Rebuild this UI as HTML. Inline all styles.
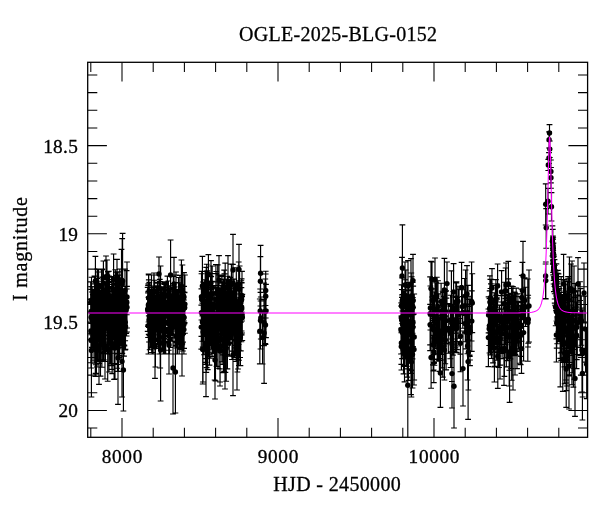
<!DOCTYPE html>
<html lang="en"><head><meta charset="utf-8"><title>OGLE-2025-BLG-0152</title>
<style>html,body{margin:0;padding:0;background:#fff}svg{display:block;will-change:transform}text{font-family:"Liberation Serif","DejaVu Serif",serif;fill:#000;stroke:#000;stroke-width:.3px}</style></head><body>
<svg width="600" height="512" viewBox="0 0 600 512">
<rect width="600" height="512" fill="#fff"/>
<defs><clipPath id="c"><rect x="87.7" y="62.3" width="499.90000000000003" height="375.0"/></clipPath></defs>
<g clip-path="url(#c)">
<path d="M126.2 286.4V333.4M123.3 286.4h5.8M123.3 333.4h5.8M119.6 280.0V309.1M116.7 280.0h5.8M116.7 309.1h5.8M91.2 299.6V334.7M88.3 299.6h5.8M88.3 334.7h5.8M99.3 312.9V363.5M96.4 312.9h5.8M96.4 363.5h5.8M110.3 302.1V353.2M107.4 302.1h5.8M107.4 353.2h5.8M102.2 269.7V332.2M99.3 269.7h5.8M99.3 332.2h5.8M115.3 269.7V314.5M112.4 269.7h5.8M112.4 314.5h5.8M93.6 298.9V349.7M90.7 298.9h5.8M90.7 349.7h5.8M103.2 290.4V360.9M100.3 290.4h5.8M100.3 360.9h5.8M119.2 292.0V357.8M116.3 292.0h5.8M116.3 357.8h5.8M114.1 291.9V329.5M111.2 291.9h5.8M111.2 329.5h5.8M102.0 302.3V348.8M99.1 302.3h5.8M99.1 348.8h5.8M103.7 295.7V338.9M100.8 295.7h5.8M100.8 338.9h5.8M103.1 316.3V360.9M100.2 316.3h5.8M100.2 360.9h5.8M125.2 303.7V349.8M122.3 303.7h5.8M122.3 349.8h5.8M94.2 290.6V332.9M91.3 290.6h5.8M91.3 332.9h5.8M105.4 283.8V361.5M102.5 283.8h5.8M102.5 361.5h5.8M113.1 291.4V332.2M110.2 291.4h5.8M110.2 332.2h5.8M96.9 289.9V332.6M94.0 289.9h5.8M94.0 332.6h5.8M102.1 269.0V303.5M99.2 269.0h5.8M99.2 303.5h5.8M118.8 305.8V357.7M115.9 305.8h5.8M115.9 357.7h5.8M100.2 313.8V360.5M97.3 313.8h5.8M97.3 360.5h5.8M103.5 299.2V352.0M100.6 299.2h5.8M100.6 352.0h5.8M96.4 326.7V374.0M93.5 326.7h5.8M93.5 374.0h5.8M117.1 294.6V354.0M114.2 294.6h5.8M114.2 354.0h5.8M119.7 314.1V357.0M116.8 314.1h5.8M116.8 357.0h5.8M107.6 295.2V349.0M104.7 295.2h5.8M104.7 349.0h5.8M109.6 277.1V323.4M106.7 277.1h5.8M106.7 323.4h5.8M96.9 310.7V367.0M94.0 310.7h5.8M94.0 367.0h5.8M111.7 276.5V319.9M108.8 276.5h5.8M108.8 319.9h5.8M112.6 307.9V349.7M109.7 307.9h5.8M109.7 349.7h5.8M99.5 298.7V339.0M96.6 298.7h5.8M96.6 339.0h5.8M118.0 271.9V313.6M115.1 271.9h5.8M115.1 313.6h5.8M114.2 305.8V364.1M111.3 305.8h5.8M111.3 364.1h5.8M109.1 289.1V343.0M106.2 289.1h5.8M106.2 343.0h5.8M125.2 303.8V340.7M122.3 303.8h5.8M122.3 340.7h5.8M107.6 301.0V353.9M104.7 301.0h5.8M104.7 353.9h5.8M114.4 307.6V353.2M111.5 307.6h5.8M111.5 353.2h5.8M112.3 281.2V325.0M109.4 281.2h5.8M109.4 325.0h5.8M97.3 309.8V351.0M94.4 309.8h5.8M94.4 351.0h5.8M115.6 305.4V341.9M112.7 305.4h5.8M112.7 341.9h5.8M125.0 269.1V312.0M122.1 269.1h5.8M122.1 312.0h5.8M104.3 298.4V332.1M101.4 298.4h5.8M101.4 332.1h5.8M103.4 279.5V353.0M100.5 279.5h5.8M100.5 353.0h5.8M124.4 292.8V345.8M121.5 292.8h5.8M121.5 345.8h5.8M117.3 307.5V368.2M114.4 307.5h5.8M114.4 368.2h5.8M97.2 269.0V310.1M94.3 269.0h5.8M94.3 310.1h5.8M93.0 295.7V332.2M90.1 295.7h5.8M90.1 332.2h5.8M99.3 305.3V336.8M96.4 305.3h5.8M96.4 336.8h5.8M107.3 274.8V328.1M104.4 274.8h5.8M104.4 328.1h5.8M111.2 301.1V365.6M108.3 301.1h5.8M108.3 365.6h5.8M122.7 303.9V338.8M119.8 303.9h5.8M119.8 338.8h5.8M115.0 283.3V363.5M112.1 283.3h5.8M112.1 363.5h5.8M98.4 269.0V300.8M95.5 269.0h5.8M95.5 300.8h5.8M121.6 304.4V345.3M118.7 304.4h5.8M118.7 345.3h5.8M95.5 291.2V373.4M92.6 291.2h5.8M92.6 373.4h5.8M118.9 275.1V335.8M116.0 275.1h5.8M116.0 335.8h5.8M124.3 312.1V349.5M121.4 312.1h5.8M121.4 349.5h5.8M116.6 285.1V327.8M113.7 285.1h5.8M113.7 327.8h5.8M98.9 293.6V337.9M96.0 293.6h5.8M96.0 337.9h5.8M114.1 296.8V379.4M111.2 296.8h5.8M111.2 379.4h5.8M122.8 300.0V330.7M119.9 300.0h5.8M119.9 330.7h5.8M114.4 298.4V336.6M111.5 298.4h5.8M111.5 336.6h5.8M103.4 290.9V353.6M100.5 290.9h5.8M100.5 353.6h5.8M93.2 292.5V327.3M90.3 292.5h5.8M90.3 327.3h5.8M95.5 297.0V337.0M92.6 297.0h5.8M92.6 337.0h5.8M100.6 298.9V338.6M97.7 298.9h5.8M97.7 338.6h5.8M116.6 296.6V347.3M113.7 296.6h5.8M113.7 347.3h5.8M108.8 294.8V353.3M105.9 294.8h5.8M105.9 353.3h5.8M106.0 293.4V328.1M103.1 293.4h5.8M103.1 328.1h5.8M116.7 295.3V336.1M113.8 295.3h5.8M113.8 336.1h5.8M123.8 293.3V327.0M120.9 293.3h5.8M120.9 327.0h5.8M91.9 292.0V347.4M89.0 292.0h5.8M89.0 347.4h5.8M99.9 287.4V341.6M97.0 287.4h5.8M97.0 341.6h5.8M111.9 318.2V369.4M109.0 318.2h5.8M109.0 369.4h5.8M91.5 277.2V323.3M88.6 277.2h5.8M88.6 323.3h5.8M100.5 313.7V376.1M97.6 313.7h5.8M97.6 376.1h5.8M110.1 286.6V327.2M107.2 286.6h5.8M107.2 327.2h5.8M119.8 269.0V310.6M116.9 269.0h5.8M116.9 310.6h5.8M109.0 284.4V329.7M106.1 284.4h5.8M106.1 329.7h5.8M126.7 289.0V314.7M123.8 289.0h5.8M123.8 314.7h5.8M123.5 290.7V334.0M120.6 290.7h5.8M120.6 334.0h5.8M127.0 286.3V328.0M124.1 286.3h5.8M124.1 328.0h5.8M116.1 272.1V323.0M113.2 272.1h5.8M113.2 323.0h5.8M109.2 300.0V343.6M106.3 300.0h5.8M106.3 343.6h5.8M117.5 287.7V371.5M114.6 287.7h5.8M114.6 371.5h5.8M113.5 284.2V334.7M110.6 284.2h5.8M110.6 334.7h5.8M96.8 287.6V341.7M93.9 287.6h5.8M93.9 341.7h5.8M90.9 299.1V362.7M88.0 299.1h5.8M88.0 362.7h5.8M101.9 281.2V325.3M99.0 281.2h5.8M99.0 325.3h5.8M120.9 300.9V335.8M118.0 300.9h5.8M118.0 335.8h5.8M121.1 300.8V336.7M118.2 300.8h5.8M118.2 336.7h5.8M118.5 312.3V371.3M115.6 312.3h5.8M115.6 371.3h5.8M99.0 292.7V326.7M96.1 292.7h5.8M96.1 326.7h5.8M124.0 295.5V356.1M121.1 295.5h5.8M121.1 356.1h5.8M119.0 281.6V330.0M116.1 281.6h5.8M116.1 330.0h5.8M121.1 286.0V333.7M118.2 286.0h5.8M118.2 333.7h5.8M101.8 315.5V361.3M98.9 315.5h5.8M98.9 361.3h5.8M100.6 293.8V341.6M97.7 293.8h5.8M97.7 341.6h5.8M119.2 303.8V355.3M116.3 303.8h5.8M116.3 355.3h5.8M110.2 295.0V363.8M107.3 295.0h5.8M107.3 363.8h5.8M109.3 290.9V331.1M106.4 290.9h5.8M106.4 331.1h5.8M97.2 308.7V346.7M94.3 308.7h5.8M94.3 346.7h5.8M99.0 295.9V340.3M96.1 295.9h5.8M96.1 340.3h5.8M111.2 309.0V347.5M108.3 309.0h5.8M108.3 347.5h5.8M111.8 279.5V324.8M108.9 279.5h5.8M108.9 324.8h5.8M117.2 288.6V326.6M114.3 288.6h5.8M114.3 326.6h5.8M117.9 278.0V310.9M115.0 278.0h5.8M115.0 310.9h5.8M101.1 290.7V347.2M98.2 290.7h5.8M98.2 347.2h5.8M101.5 269.0V303.7M98.6 269.0h5.8M98.6 303.7h5.8M103.7 310.8V359.9M100.8 310.8h5.8M100.8 359.9h5.8M97.6 278.4V359.2M94.7 278.4h5.8M94.7 359.2h5.8M100.4 298.7V335.8M97.5 298.7h5.8M97.5 335.8h5.8M90.7 281.8V323.1M87.8 281.8h5.8M87.8 323.1h5.8M104.8 303.2V351.5M101.9 303.2h5.8M101.9 351.5h5.8M102.1 284.9V338.5M99.2 284.9h5.8M99.2 338.5h5.8M108.2 282.5V313.1M105.3 282.5h5.8M105.3 313.1h5.8M107.9 271.6V312.2M105.0 271.6h5.8M105.0 312.2h5.8M101.8 283.9V324.5M98.9 283.9h5.8M98.9 324.5h5.8M107.7 319.1V381.2M104.8 319.1h5.8M104.8 381.2h5.8M107.3 292.0V330.1M104.4 292.0h5.8M104.4 330.1h5.8M102.5 277.1V314.0M99.6 277.1h5.8M99.6 314.0h5.8M94.7 320.4V363.1M91.8 320.4h5.8M91.8 363.1h5.8M95.3 319.9V376.5M92.4 319.9h5.8M92.4 376.5h5.8M106.8 305.8V350.2M103.9 305.8h5.8M103.9 350.2h5.8M120.7 306.7V344.0M117.8 306.7h5.8M117.8 344.0h5.8M121.8 290.0V329.6M118.9 290.0h5.8M118.9 329.6h5.8M107.8 295.6V353.9M104.9 295.6h5.8M104.9 353.9h5.8M102.9 298.7V336.2M100.0 298.7h5.8M100.0 336.2h5.8M119.3 280.9V314.9M116.4 280.9h5.8M116.4 314.9h5.8M97.8 290.0V361.5M94.9 290.0h5.8M94.9 361.5h5.8M118.4 302.7V348.7M115.5 302.7h5.8M115.5 348.7h5.8M95.7 294.2V364.7M92.8 294.2h5.8M92.8 364.7h5.8M117.0 278.9V320.2M114.1 278.9h5.8M114.1 320.2h5.8M125.5 303.6V349.2M122.6 303.6h5.8M122.6 349.2h5.8M113.6 287.2V329.0M110.7 287.2h5.8M110.7 329.0h5.8M95.0 283.9V342.2M92.1 283.9h5.8M92.1 342.2h5.8M94.5 276.1V328.5M91.6 276.1h5.8M91.6 328.5h5.8M108.9 271.2V320.2M106.0 271.2h5.8M106.0 320.2h5.8M104.6 287.8V335.3M101.7 287.8h5.8M101.7 335.3h5.8M119.2 306.3V347.4M116.3 306.3h5.8M116.3 347.4h5.8M112.6 284.2V325.5M109.7 284.2h5.8M109.7 325.5h5.8M92.1 286.7V342.2M89.2 286.7h5.8M89.2 342.2h5.8M117.8 296.8V364.5M114.9 296.8h5.8M114.9 364.5h5.8M114.4 289.0V337.4M111.5 289.0h5.8M111.5 337.4h5.8M124.3 295.2V345.1M121.4 295.2h5.8M121.4 345.1h5.8M116.6 295.0V331.3M113.7 295.0h5.8M113.7 331.3h5.8M123.7 289.7V327.3M120.8 289.7h5.8M120.8 327.3h5.8M97.6 269.1V319.9M94.7 269.1h5.8M94.7 319.9h5.8M91.1 289.4V333.4M88.2 289.4h5.8M88.2 333.4h5.8M109.6 281.9V329.2M106.7 281.9h5.8M106.7 329.2h5.8M111.6 304.3V339.4M108.7 304.3h5.8M108.7 339.4h5.8M112.6 290.7V345.4M109.7 290.7h5.8M109.7 345.4h5.8M115.5 294.9V348.5M112.6 294.9h5.8M112.6 348.5h5.8M111.6 306.2V335.6M108.7 306.2h5.8M108.7 335.6h5.8M112.2 288.0V373.6M109.3 288.0h5.8M109.3 373.6h5.8M119.3 302.1V341.5M116.4 302.1h5.8M116.4 341.5h5.8M120.7 295.9V345.8M117.8 295.9h5.8M117.8 345.8h5.8M116.6 295.7V340.8M113.7 295.7h5.8M113.7 340.8h5.8M116.6 275.3V304.3M113.7 275.3h5.8M113.7 304.3h5.8M92.8 294.7V340.6M89.9 294.7h5.8M89.9 340.6h5.8M101.9 305.3V367.2M99.0 305.3h5.8M99.0 367.2h5.8M109.0 276.1V315.5M106.1 276.1h5.8M106.1 315.5h5.8M114.5 287.8V322.0M111.6 287.8h5.8M111.6 322.0h5.8M122.3 313.3V353.3M119.4 313.3h5.8M119.4 353.3h5.8M183.0 299.0V334.4M180.1 299.0h5.8M180.1 334.4h5.8M171.3 293.8V322.6M168.4 293.8h5.8M168.4 322.6h5.8M177.5 315.8V354.0M174.6 315.8h5.8M174.6 354.0h5.8M152.0 289.0V330.3M149.1 289.0h5.8M149.1 330.3h5.8M179.7 282.9V321.0M176.8 282.9h5.8M176.8 321.0h5.8M156.6 300.1V329.5M153.7 300.1h5.8M153.7 329.5h5.8M154.6 280.2V318.4M151.7 280.2h5.8M151.7 318.4h5.8M153.1 307.1V354.0M150.2 307.1h5.8M150.2 354.0h5.8M156.0 306.9V340.7M153.1 306.9h5.8M153.1 340.7h5.8M165.2 290.0V341.4M162.3 290.0h5.8M162.3 341.4h5.8M177.4 299.9V336.6M174.5 299.9h5.8M174.5 336.6h5.8M172.2 289.3V334.6M169.3 289.3h5.8M169.3 334.6h5.8M182.3 310.5V343.9M179.4 310.5h5.8M179.4 343.9h5.8M170.4 299.0V341.1M167.5 299.0h5.8M167.5 341.1h5.8M153.8 287.5V332.2M150.9 287.5h5.8M150.9 332.2h5.8M175.4 290.3V329.2M172.5 290.3h5.8M172.5 329.2h5.8M178.8 301.9V343.9M175.9 301.9h5.8M175.9 343.9h5.8M168.7 311.1V354.0M165.8 311.1h5.8M165.8 354.0h5.8M169.9 297.2V340.0M167.0 297.2h5.8M167.0 340.0h5.8M174.6 289.2V328.2M171.7 289.2h5.8M171.7 328.2h5.8M152.7 292.5V340.5M149.8 292.5h5.8M149.8 340.5h5.8M157.9 297.8V343.6M155.0 297.8h5.8M155.0 343.6h5.8M164.8 284.5V321.7M161.9 284.5h5.8M161.9 321.7h5.8M164.2 296.2V338.3M161.3 296.2h5.8M161.3 338.3h5.8M163.1 298.3V321.3M160.2 298.3h5.8M160.2 321.3h5.8M176.7 290.1V341.6M173.8 290.1h5.8M173.8 341.6h5.8M163.2 321.2V354.0M160.3 321.2h5.8M160.3 354.0h5.8M151.5 275.0V312.0M148.6 275.0h5.8M148.6 312.0h5.8M184.6 292.2V322.5M181.7 292.2h5.8M181.7 322.5h5.8M152.1 290.7V339.0M149.2 290.7h5.8M149.2 339.0h5.8M165.6 288.7V324.4M162.7 288.7h5.8M162.7 324.4h5.8M148.8 287.3V327.5M145.9 287.3h5.8M145.9 327.5h5.8M147.7 287.4V331.4M144.8 287.4h5.8M144.8 331.4h5.8M149.4 290.5V326.0M146.5 290.5h5.8M146.5 326.0h5.8M168.4 281.0V333.0M165.5 281.0h5.8M165.5 333.0h5.8M181.3 296.2V348.4M178.4 296.2h5.8M178.4 348.4h5.8M148.4 297.2V354.0M145.5 297.2h5.8M145.5 354.0h5.8M176.2 307.5V337.8M173.3 307.5h5.8M173.3 337.8h5.8M173.9 287.6V327.5M171.0 287.6h5.8M171.0 327.5h5.8M168.3 291.8V336.3M165.4 291.8h5.8M165.4 336.3h5.8M165.7 305.7V354.0M162.8 305.7h5.8M162.8 354.0h5.8M152.1 315.8V354.0M149.2 315.8h5.8M149.2 354.0h5.8M177.7 297.1V333.8M174.8 297.1h5.8M174.8 333.8h5.8M178.4 300.2V342.7M175.5 300.2h5.8M175.5 342.7h5.8M158.9 295.6V344.9M156.0 295.6h5.8M156.0 344.9h5.8M174.6 286.9V318.5M171.7 286.9h5.8M171.7 318.5h5.8M170.8 288.3V338.2M167.9 288.3h5.8M167.9 338.2h5.8M180.4 295.7V333.2M177.5 295.7h5.8M177.5 333.2h5.8M153.3 289.4V329.6M150.4 289.4h5.8M150.4 329.6h5.8M170.6 309.6V347.5M167.7 309.6h5.8M167.7 347.5h5.8M183.0 294.5V342.1M180.1 294.5h5.8M180.1 342.1h5.8M163.0 286.7V326.6M160.1 286.7h5.8M160.1 326.6h5.8M166.0 284.5V324.3M163.1 284.5h5.8M163.1 324.3h5.8M182.9 302.7V351.0M180.0 302.7h5.8M180.0 351.0h5.8M163.5 306.1V343.4M160.6 306.1h5.8M160.6 343.4h5.8M181.2 295.8V334.3M178.3 295.8h5.8M178.3 334.3h5.8M162.9 298.4V337.0M160.0 298.4h5.8M160.0 337.0h5.8M154.2 306.6V346.1M151.3 306.6h5.8M151.3 346.1h5.8M159.3 302.6V354.0M156.4 302.6h5.8M156.4 354.0h5.8M176.0 275.0V308.5M173.1 275.0h5.8M173.1 308.5h5.8M184.1 286.4V348.4M181.2 286.4h5.8M181.2 348.4h5.8M179.2 300.8V354.0M176.3 300.8h5.8M176.3 354.0h5.8M154.6 300.9V338.7M151.7 300.9h5.8M151.7 338.7h5.8M157.6 287.3V344.6M154.7 287.3h5.8M154.7 344.6h5.8M180.3 292.5V330.3M177.4 292.5h5.8M177.4 330.3h5.8M169.3 285.8V327.5M166.4 285.8h5.8M166.4 327.5h5.8M174.5 295.8V325.3M171.6 295.8h5.8M171.6 325.3h5.8M173.3 276.4V335.2M170.4 276.4h5.8M170.4 335.2h5.8M179.7 303.8V342.2M176.8 303.8h5.8M176.8 342.2h5.8M175.3 305.8V342.9M172.4 305.8h5.8M172.4 342.9h5.8M155.3 298.0V339.5M152.4 298.0h5.8M152.4 339.5h5.8M159.5 301.7V331.4M156.6 301.7h5.8M156.6 331.4h5.8M171.1 298.1V333.3M168.2 298.1h5.8M168.2 333.3h5.8M184.5 292.6V323.6M181.6 292.6h5.8M181.6 323.6h5.8M149.7 289.4V349.7M146.8 289.4h5.8M146.8 349.7h5.8M150.7 298.7V347.6M147.8 298.7h5.8M147.8 347.6h5.8M164.6 283.6V320.8M161.7 283.6h5.8M161.7 320.8h5.8M154.1 275.0V309.5M151.2 275.0h5.8M151.2 309.5h5.8M158.5 306.5V348.4M155.6 306.5h5.8M155.6 348.4h5.8M167.4 276.1V315.3M164.5 276.1h5.8M164.5 315.3h5.8M168.7 297.7V350.2M165.8 297.7h5.8M165.8 350.2h5.8M154.9 303.1V346.3M152.0 303.1h5.8M152.0 346.3h5.8M148.3 291.3V324.8M145.4 291.3h5.8M145.4 324.8h5.8M148.0 292.8V326.4M145.1 292.8h5.8M145.1 326.4h5.8M153.8 275.0V328.0M150.9 275.0h5.8M150.9 328.0h5.8M159.9 281.5V325.6M157.0 281.5h5.8M157.0 325.6h5.8M173.7 283.5V324.7M170.8 283.5h5.8M170.8 324.7h5.8M149.5 299.0V335.6M146.6 299.0h5.8M146.6 335.6h5.8M158.1 292.5V344.8M155.2 292.5h5.8M155.2 344.8h5.8M165.1 281.8V323.3M162.2 281.8h5.8M162.2 323.3h5.8M164.4 307.3V354.0M161.5 307.3h5.8M161.5 354.0h5.8M157.5 287.6V325.5M154.6 287.6h5.8M154.6 325.5h5.8M175.9 317.9V354.0M173.0 317.9h5.8M173.0 354.0h5.8M148.4 283.9V326.0M145.5 283.9h5.8M145.5 326.0h5.8M163.9 283.8V321.4M161.0 283.8h5.8M161.0 321.4h5.8M165.0 302.2V342.3M162.1 302.2h5.8M162.1 342.3h5.8M156.1 285.7V329.1M153.2 285.7h5.8M153.2 329.1h5.8M162.1 300.2V348.8M159.2 300.2h5.8M159.2 348.8h5.8M179.9 275.3V321.1M177.0 275.3h5.8M177.0 321.1h5.8M165.6 307.0V353.8M162.7 307.0h5.8M162.7 353.8h5.8M164.4 282.3V323.7M161.5 282.3h5.8M161.5 323.7h5.8M150.7 299.9V347.0M147.8 299.9h5.8M147.8 347.0h5.8M164.2 293.3V354.0M161.3 293.3h5.8M161.3 354.0h5.8M175.7 305.5V345.1M172.8 305.5h5.8M172.8 345.1h5.8M180.4 303.3V346.8M177.5 303.3h5.8M177.5 346.8h5.8M169.5 301.4V335.4M166.6 301.4h5.8M166.6 335.4h5.8M169.3 291.7V339.2M166.4 291.7h5.8M166.4 339.2h5.8M178.5 277.5V325.5M175.6 277.5h5.8M175.6 325.5h5.8M148.8 279.9V315.9M145.9 279.9h5.8M145.9 315.9h5.8M175.1 282.5V341.4M172.2 282.5h5.8M172.2 341.4h5.8M169.5 311.5V354.0M166.6 311.5h5.8M166.6 354.0h5.8M162.3 291.9V326.8M159.4 291.9h5.8M159.4 326.8h5.8M151.7 297.8V352.5M148.8 297.8h5.8M148.8 352.5h5.8M176.6 301.6V348.0M173.7 301.6h5.8M173.7 348.0h5.8M152.9 286.0V330.1M150.0 286.0h5.8M150.0 330.1h5.8M170.0 307.4V331.8M167.1 307.4h5.8M167.1 331.8h5.8M148.7 275.0V334.3M145.8 275.0h5.8M145.8 334.3h5.8M176.8 289.5V327.5M173.9 289.5h5.8M173.9 327.5h5.8M175.3 301.3V346.2M172.4 301.3h5.8M172.4 346.2h5.8M180.7 296.1V346.8M177.8 296.1h5.8M177.8 346.8h5.8M168.1 300.8V343.7M165.2 300.8h5.8M165.2 343.7h5.8M157.5 286.4V334.8M154.6 286.4h5.8M154.6 334.8h5.8M165.6 290.4V329.0M162.7 290.4h5.8M162.7 329.0h5.8M183.9 305.2V354.0M181.0 305.2h5.8M181.0 354.0h5.8M165.4 291.8V335.4M162.5 291.8h5.8M162.5 335.4h5.8M156.3 293.5V330.9M153.4 293.5h5.8M153.4 330.9h5.8M157.4 283.2V319.9M154.5 283.2h5.8M154.5 319.9h5.8M184.9 275.0V333.2M182.0 275.0h5.8M182.0 333.2h5.8M161.5 294.3V333.0M158.6 294.3h5.8M158.6 333.0h5.8M156.7 287.5V314.9M153.8 287.5h5.8M153.8 314.9h5.8M183.3 291.9V325.8M180.4 291.9h5.8M180.4 325.8h5.8M152.7 289.2V332.8M149.8 289.2h5.8M149.8 332.8h5.8M169.7 298.6V330.6M166.8 298.6h5.8M166.8 330.6h5.8M158.4 289.4V328.0M155.5 289.4h5.8M155.5 328.0h5.8M182.2 297.0V335.6M179.3 297.0h5.8M179.3 335.6h5.8M161.4 288.2V324.5M158.5 288.2h5.8M158.5 324.5h5.8M168.5 289.1V333.7M165.6 289.1h5.8M165.6 333.7h5.8M154.4 297.4V333.0M151.5 297.4h5.8M151.5 333.0h5.8M160.4 300.4V328.4M157.5 300.4h5.8M157.5 328.4h5.8M169.6 290.2V337.4M166.7 290.2h5.8M166.7 337.4h5.8M181.1 312.8V349.3M178.2 312.8h5.8M178.2 349.3h5.8M148.1 285.4V337.5M145.2 285.4h5.8M145.2 337.5h5.8M159.8 279.3V331.6M156.9 279.3h5.8M156.9 331.6h5.8M180.2 291.4V348.8M177.3 291.4h5.8M177.3 348.8h5.8M149.3 282.4V324.4M146.4 282.4h5.8M146.4 324.4h5.8M159.9 304.8V340.1M157.0 304.8h5.8M157.0 340.1h5.8M152.4 297.6V335.6M149.5 297.6h5.8M149.5 335.6h5.8M159.3 319.0V354.0M156.4 319.0h5.8M156.4 354.0h5.8M165.7 287.3V327.8M162.8 287.3h5.8M162.8 327.8h5.8M157.6 282.4V317.0M154.7 282.4h5.8M154.7 317.0h5.8M241.6 282.6V316.4M238.7 282.6h5.8M238.7 316.4h5.8M203.4 288.9V335.0M200.5 288.9h5.8M200.5 335.0h5.8M231.4 264.1V304.7M228.5 264.1h5.8M228.5 304.7h5.8M201.4 288.9V336.3M198.5 288.9h5.8M198.5 336.3h5.8M234.3 291.3V357.6M231.4 291.3h5.8M231.4 357.6h5.8M232.2 292.7V335.9M229.3 292.7h5.8M229.3 335.9h5.8M225.3 286.7V333.3M222.4 286.7h5.8M222.4 333.3h5.8M208.5 307.2V356.9M205.6 307.2h5.8M205.6 356.9h5.8M215.9 264.5V335.1M213.0 264.5h5.8M213.0 335.1h5.8M232.8 307.6V334.1M229.9 307.6h5.8M229.9 334.1h5.8M223.1 314.2V364.3M220.2 314.2h5.8M220.2 364.3h5.8M226.0 285.5V342.0M223.1 285.5h5.8M223.1 342.0h5.8M240.8 317.5V350.9M237.9 317.5h5.8M237.9 350.9h5.8M209.4 312.9V354.7M206.5 312.9h5.8M206.5 354.7h5.8M241.3 280.7V319.4M238.4 280.7h5.8M238.4 319.4h5.8M202.4 303.1V341.2M199.5 303.1h5.8M199.5 341.2h5.8M236.9 300.9V359.6M234.0 300.9h5.8M234.0 359.6h5.8M236.7 303.7V356.0M233.8 303.7h5.8M233.8 356.0h5.8M225.8 301.1V347.3M222.9 301.1h5.8M222.9 347.3h5.8M232.9 310.2V355.9M230.0 310.2h5.8M230.0 355.9h5.8M238.9 280.7V330.9M236.0 280.7h5.8M236.0 330.9h5.8M236.5 289.1V327.7M233.6 289.1h5.8M233.6 327.7h5.8M208.7 289.6V345.4M205.8 289.6h5.8M205.8 345.4h5.8M238.7 262.0V305.7M235.8 262.0h5.8M235.8 305.7h5.8M216.1 281.9V329.0M213.2 281.9h5.8M213.2 329.0h5.8M213.0 302.9V352.9M210.1 302.9h5.8M210.1 352.9h5.8M224.4 273.8V321.2M221.5 273.8h5.8M221.5 321.2h5.8M207.7 273.7V316.2M204.8 273.7h5.8M204.8 316.2h5.8M205.4 325.0V364.4M202.5 325.0h5.8M202.5 364.4h5.8M221.9 283.1V320.5M219.0 283.1h5.8M219.0 320.5h5.8M228.3 283.7V343.8M225.4 283.7h5.8M225.4 343.8h5.8M241.7 282.6V334.8M238.8 282.6h5.8M238.8 334.8h5.8M206.2 267.4V303.3M203.3 267.4h5.8M203.3 303.3h5.8M204.7 279.8V330.0M201.8 279.8h5.8M201.8 330.0h5.8M234.3 283.6V316.1M231.4 283.6h5.8M231.4 316.1h5.8M236.2 284.4V352.3M233.3 284.4h5.8M233.3 352.3h5.8M201.5 273.7V320.0M198.6 273.7h5.8M198.6 320.0h5.8M241.6 278.9V312.1M238.7 278.9h5.8M238.7 312.1h5.8M223.5 318.1V372.6M220.6 318.1h5.8M220.6 372.6h5.8M221.9 316.7V361.8M219.0 316.7h5.8M219.0 361.8h5.8M219.5 288.4V327.4M216.6 288.4h5.8M216.6 327.4h5.8M229.8 284.0V318.0M226.9 284.0h5.8M226.9 318.0h5.8M201.7 271.3V327.4M198.8 271.3h5.8M198.8 327.4h5.8M238.4 297.9V342.1M235.5 297.9h5.8M235.5 342.1h5.8M224.2 290.9V331.8M221.3 290.9h5.8M221.3 331.8h5.8M235.7 283.1V318.9M232.8 283.1h5.8M232.8 318.9h5.8M216.7 297.7V347.7M213.8 297.7h5.8M213.8 347.7h5.8M228.7 305.1V342.5M225.8 305.1h5.8M225.8 342.5h5.8M228.0 282.8V333.2M225.1 282.8h5.8M225.1 333.2h5.8M217.1 288.1V311.9M214.2 288.1h5.8M214.2 311.9h5.8M228.8 284.3V332.3M225.9 284.3h5.8M225.9 332.3h5.8M209.5 314.4V365.1M206.6 314.4h5.8M206.6 365.1h5.8M241.4 287.6V341.7M238.5 287.6h5.8M238.5 341.7h5.8M207.1 285.6V347.1M204.2 285.6h5.8M204.2 347.1h5.8M231.0 298.6V339.4M228.1 298.6h5.8M228.1 339.4h5.8M212.1 305.3V356.6M209.2 305.3h5.8M209.2 356.6h5.8M220.0 288.0V339.0M217.1 288.0h5.8M217.1 339.0h5.8M230.2 283.9V320.8M227.3 283.9h5.8M227.3 320.8h5.8M208.9 285.5V340.5M206.0 285.5h5.8M206.0 340.5h5.8M233.2 288.1V332.2M230.3 288.1h5.8M230.3 332.2h5.8M224.3 298.5V350.3M221.4 298.5h5.8M221.4 350.3h5.8M238.8 302.1V344.5M235.9 302.1h5.8M235.9 344.5h5.8M223.8 303.4V364.0M220.9 303.4h5.8M220.9 364.0h5.8M208.3 287.8V320.9M205.4 287.8h5.8M205.4 320.9h5.8M211.9 281.3V328.8M209.0 281.3h5.8M209.0 328.8h5.8M210.5 295.5V344.7M207.6 295.5h5.8M207.6 344.7h5.8M219.8 307.0V368.8M216.9 307.0h5.8M216.9 368.8h5.8M232.9 264.4V301.6M230.0 264.4h5.8M230.0 301.6h5.8M212.2 266.0V309.6M209.3 266.0h5.8M209.3 309.6h5.8M240.9 282.8V322.2M238.0 282.8h5.8M238.0 322.2h5.8M236.9 289.9V344.6M234.0 289.9h5.8M234.0 344.6h5.8M215.8 285.5V328.5M212.9 285.5h5.8M212.9 328.5h5.8M238.9 301.7V350.4M236.0 301.7h5.8M236.0 350.4h5.8M228.6 287.5V322.0M225.7 287.5h5.8M225.7 322.0h5.8M207.2 270.9V303.2M204.3 270.9h5.8M204.3 303.2h5.8M217.7 264.8V314.2M214.8 264.8h5.8M214.8 314.2h5.8M220.8 285.4V328.8M217.9 285.4h5.8M217.9 328.8h5.8M213.9 303.7V353.4M211.0 303.7h5.8M211.0 353.4h5.8M206.3 313.8V372.4M203.4 313.8h5.8M203.4 372.4h5.8M207.7 300.5V369.6M204.8 300.5h5.8M204.8 369.6h5.8M208.9 287.7V340.6M206.0 287.7h5.8M206.0 340.6h5.8M221.3 297.5V341.9M218.4 297.5h5.8M218.4 341.9h5.8M215.5 312.6V380.8M212.6 312.6h5.8M212.6 380.8h5.8M230.2 283.7V333.1M227.3 283.7h5.8M227.3 333.1h5.8M236.0 302.1V347.9M233.1 302.1h5.8M233.1 347.9h5.8M204.0 297.3V354.7M201.1 297.3h5.8M201.1 354.7h5.8M207.0 301.9V344.3M204.1 301.9h5.8M204.1 344.3h5.8M216.2 271.5V314.9M213.3 271.5h5.8M213.3 314.9h5.8M235.7 291.0V339.9M232.8 291.0h5.8M232.8 339.9h5.8M204.6 286.0V325.5M201.7 286.0h5.8M201.7 325.5h5.8M234.9 304.3V345.4M232.0 304.3h5.8M232.0 345.4h5.8M235.0 290.2V319.8M232.1 290.2h5.8M232.1 319.8h5.8M232.8 299.0V351.1M229.9 299.0h5.8M229.9 351.1h5.8M227.3 309.8V354.5M224.4 309.8h5.8M224.4 354.5h5.8M228.7 288.8V336.7M225.8 288.8h5.8M225.8 336.7h5.8M211.6 285.5V349.1M208.7 285.5h5.8M208.7 349.1h5.8M216.6 294.4V366.4M213.7 294.4h5.8M213.7 366.4h5.8M211.3 309.9V344.8M208.4 309.9h5.8M208.4 344.8h5.8M215.9 273.6V339.9M213.0 273.6h5.8M213.0 339.9h5.8M206.0 282.2V320.8M203.1 282.2h5.8M203.1 320.8h5.8M223.8 311.3V350.8M220.9 311.3h5.8M220.9 350.8h5.8M222.0 276.3V327.2M219.1 276.3h5.8M219.1 327.2h5.8M218.6 304.0V351.9M215.7 304.0h5.8M215.7 351.9h5.8M216.6 292.8V350.0M213.7 292.8h5.8M213.7 350.0h5.8M210.0 300.0V358.2M207.1 300.0h5.8M207.1 358.2h5.8M224.2 270.1V305.5M221.3 270.1h5.8M221.3 305.5h5.8M204.7 287.5V336.5M201.8 287.5h5.8M201.8 336.5h5.8M206.4 303.9V347.8M203.5 303.9h5.8M203.5 347.8h5.8M229.0 290.8V356.2M226.1 290.8h5.8M226.1 356.2h5.8M242.1 296.5V333.0M239.2 296.5h5.8M239.2 333.0h5.8M220.4 304.3V346.2M217.5 304.3h5.8M217.5 346.2h5.8M205.9 286.8V344.0M203.0 286.8h5.8M203.0 344.0h5.8M205.7 299.8V362.3M202.8 299.8h5.8M202.8 362.3h5.8M235.3 301.2V355.7M232.4 301.2h5.8M232.4 355.7h5.8M220.0 308.1V349.5M217.1 308.1h5.8M217.1 349.5h5.8M202.7 315.0V384.0M199.8 315.0h5.8M199.8 384.0h5.8M236.9 306.2V348.3M234.0 306.2h5.8M234.0 348.3h5.8M217.4 292.1V344.8M214.5 292.1h5.8M214.5 344.8h5.8M218.0 314.2V368.2M215.1 314.2h5.8M215.1 368.2h5.8M218.2 291.6V349.4M215.3 291.6h5.8M215.3 349.4h5.8M236.3 267.7V306.2M233.4 267.7h5.8M233.4 306.2h5.8M230.5 277.3V325.3M227.6 277.3h5.8M227.6 325.3h5.8M228.1 290.9V345.1M225.2 290.9h5.8M225.2 345.1h5.8M211.8 273.5V313.7M208.9 273.5h5.8M208.9 313.7h5.8M218.3 301.3V348.4M215.4 301.3h5.8M215.4 348.4h5.8M205.2 271.5V296.8M202.3 271.5h5.8M202.3 296.8h5.8M229.3 291.9V325.0M226.4 291.9h5.8M226.4 325.0h5.8M206.7 264.2V310.8M203.8 264.2h5.8M203.8 310.8h5.8M242.3 294.4V340.5M239.4 294.4h5.8M239.4 340.5h5.8M216.0 288.1V350.5M213.1 288.1h5.8M213.1 350.5h5.8M206.7 292.9V367.6M203.8 292.9h5.8M203.8 367.6h5.8M206.5 282.6V341.8M203.6 282.6h5.8M203.6 341.8h5.8M212.3 292.1V327.6M209.4 292.1h5.8M209.4 327.6h5.8M227.4 305.9V368.8M224.5 305.9h5.8M224.5 368.8h5.8M232.0 296.9V359.5M229.1 296.9h5.8M229.1 359.5h5.8M239.0 303.4V360.2M236.1 303.4h5.8M236.1 360.2h5.8M236.5 287.9V341.1M233.6 287.9h5.8M233.6 341.1h5.8M230.2 295.7V343.5M227.3 295.7h5.8M227.3 343.5h5.8M227.0 292.6V324.3M224.1 292.6h5.8M224.1 324.3h5.8M223.1 285.3V354.8M220.2 285.3h5.8M220.2 354.8h5.8M229.3 293.7V355.9M226.4 293.7h5.8M226.4 355.9h5.8M213.7 286.8V327.4M210.8 286.8h5.8M210.8 327.4h5.8M236.2 311.9V361.5M233.3 311.9h5.8M233.3 361.5h5.8M227.5 276.2V327.5M224.6 276.2h5.8M224.6 327.5h5.8M224.1 315.5V371.4M221.2 315.5h5.8M221.2 371.4h5.8M206.6 301.2V342.3M203.7 301.2h5.8M203.7 342.3h5.8M220.1 315.1V382.0M217.2 315.1h5.8M217.2 382.0h5.8M210.5 276.1V316.5M207.6 276.1h5.8M207.6 316.5h5.8M222.6 281.8V327.1M219.7 281.8h5.8M219.7 327.1h5.8M218.8 275.0V318.5M215.9 275.0h5.8M215.9 318.5h5.8M221.8 275.2V333.6M218.9 275.2h5.8M218.9 333.6h5.8M211.2 276.6V319.5M208.3 276.6h5.8M208.3 319.5h5.8M210.9 298.7V333.4M208.0 298.7h5.8M208.0 333.4h5.8M221.0 296.4V334.5M218.1 296.4h5.8M218.1 334.5h5.8M205.4 302.3V333.0M202.5 302.3h5.8M202.5 333.0h5.8M201.3 305.1V349.1M198.4 305.1h5.8M198.4 349.1h5.8M240.1 311.0V357.5M237.2 311.0h5.8M237.2 357.5h5.8M206.0 289.1V358.6M203.1 289.1h5.8M203.1 358.6h5.8M223.4 279.3V329.2M220.5 279.3h5.8M220.5 329.2h5.8M237.9 303.1V345.0M235.0 303.1h5.8M235.0 345.0h5.8M233.0 291.7V331.9M230.1 291.7h5.8M230.1 331.9h5.8M238.9 306.0V365.5M236.0 306.0h5.8M236.0 365.5h5.8M234.2 279.1V308.2M231.3 279.1h5.8M231.3 308.2h5.8M226.2 315.9V381.2M223.3 315.9h5.8M223.3 381.2h5.8M214.3 292.1V356.2M211.4 292.1h5.8M211.4 356.2h5.8M202.8 295.8V347.1M199.9 295.8h5.8M199.9 347.1h5.8M225.2 263.1V312.8M222.3 263.1h5.8M222.3 312.8h5.8M204.0 286.8V320.0M201.1 286.8h5.8M201.1 320.0h5.8M207.0 296.8V350.9M204.1 296.8h5.8M204.1 350.9h5.8M208.6 293.1V347.0M205.7 293.1h5.8M205.7 347.0h5.8M411.3 313.1V370.6M408.4 313.1h5.8M408.4 370.6h5.8M411.3 273.0V334.1M408.4 273.0h5.8M408.4 334.1h5.8M413.0 307.8V346.5M410.1 307.8h5.8M410.1 346.5h5.8M408.8 282.6V316.7M405.9 282.6h5.8M405.9 316.7h5.8M408.4 298.0V350.2M405.5 298.0h5.8M405.5 350.2h5.8M401.9 289.5V320.4M399.0 289.5h5.8M399.0 320.4h5.8M405.2 314.7V358.9M402.3 314.7h5.8M402.3 358.9h5.8M406.8 329.5V366.4M403.9 329.5h5.8M403.9 366.4h5.8M406.3 299.3V352.5M403.4 299.3h5.8M403.4 352.5h5.8M411.3 311.5V370.0M408.4 311.5h5.8M408.4 370.0h5.8M405.6 279.7V317.7M402.7 279.7h5.8M402.7 317.7h5.8M401.3 302.8V332.7M398.4 302.8h5.8M398.4 332.7h5.8M403.8 293.4V340.1M400.9 293.4h5.8M400.9 340.1h5.8M404.5 325.8V381.9M401.6 325.8h5.8M401.6 381.9h5.8M402.2 297.1V342.0M399.3 297.1h5.8M399.3 342.0h5.8M406.2 301.1V366.2M403.3 301.1h5.8M403.3 366.2h5.8M403.0 298.4V341.0M400.1 298.4h5.8M400.1 341.0h5.8M406.8 297.5V351.8M403.9 297.5h5.8M403.9 351.8h5.8M403.4 319.8V347.8M400.5 319.8h5.8M400.5 347.8h5.8M412.7 286.1V326.9M409.8 286.1h5.8M409.8 326.9h5.8M408.2 290.6V352.4M405.3 290.6h5.8M405.3 352.4h5.8M404.3 316.9V365.5M401.4 316.9h5.8M401.4 365.5h5.8M413.2 286.1V314.6M410.3 286.1h5.8M410.3 314.6h5.8M406.3 306.9V346.9M403.4 306.9h5.8M403.4 346.9h5.8M402.2 277.8V323.5M399.3 277.8h5.8M399.3 323.5h5.8M410.6 325.0V373.4M407.7 325.0h5.8M407.7 373.4h5.8M403.8 300.3V337.4M400.9 300.3h5.8M400.9 337.4h5.8M412.7 294.0V350.3M409.8 294.0h5.8M409.8 350.3h5.8M401.9 297.5V343.3M399.0 297.5h5.8M399.0 343.3h5.8M405.9 270.0V321.5M403.0 270.0h5.8M403.0 321.5h5.8M407.2 308.9V377.1M404.3 308.9h5.8M404.3 377.1h5.8M412.5 313.4V358.8M409.6 313.4h5.8M409.6 358.8h5.8M401.6 284.9V327.8M398.7 284.9h5.8M398.7 327.8h5.8M403.0 316.4V349.8M400.1 316.4h5.8M400.1 349.8h5.8M403.9 291.1V334.0M401.0 291.1h5.8M401.0 334.0h5.8M406.1 299.1V346.1M403.2 299.1h5.8M403.2 346.1h5.8M402.6 294.6V353.7M399.7 294.6h5.8M399.7 353.7h5.8M407.3 301.1V356.0M404.4 301.1h5.8M404.4 356.0h5.8M403.5 323.7V373.8M400.6 323.7h5.8M400.6 373.8h5.8M410.2 302.7V360.6M407.3 302.7h5.8M407.3 360.6h5.8M412.5 320.9V388.0M409.6 320.9h5.8M409.6 388.0h5.8M404.7 315.0V366.5M401.8 315.0h5.8M401.8 366.5h5.8M401.3 328.8V364.4M398.4 328.8h5.8M398.4 364.4h5.8M408.5 328.2V380.4M405.6 328.2h5.8M405.6 380.4h5.8M411.3 308.5V361.5M408.4 308.5h5.8M408.4 361.5h5.8M407.4 305.4V351.4M404.5 305.4h5.8M404.5 351.4h5.8M411.7 276.7V315.8M408.8 276.7h5.8M408.8 315.8h5.8M403.0 289.7V344.3M400.1 289.7h5.8M400.1 344.3h5.8M412.8 297.5V348.4M409.9 297.5h5.8M409.9 348.4h5.8M409.9 294.9V349.5M407.0 294.9h5.8M407.0 349.5h5.8M407.2 313.3V368.8M404.3 313.3h5.8M404.3 368.8h5.8M402.1 304.8V358.6M399.2 304.8h5.8M399.2 358.6h5.8M412.6 282.5V333.2M409.7 282.5h5.8M409.7 333.2h5.8M407.7 289.8V334.9M404.8 289.8h5.8M404.8 334.9h5.8M460.4 314.7V371.7M457.5 314.7h5.8M457.5 371.7h5.8M469.8 306.5V356.4M466.9 306.5h5.8M466.9 356.4h5.8M434.1 320.7V362.6M431.2 320.7h5.8M431.2 362.6h5.8M433.5 305.0V354.6M430.6 305.0h5.8M430.6 354.6h5.8M443.0 292.5V338.8M440.1 292.5h5.8M440.1 338.8h5.8M451.9 306.0V381.5M449.0 306.0h5.8M449.0 381.5h5.8M430.1 276.8V350.6M427.2 276.8h5.8M427.2 350.6h5.8M462.8 296.6V328.2M459.9 296.6h5.8M459.9 328.2h5.8M464.7 278.5V332.8M461.8 278.5h5.8M461.8 332.8h5.8M434.4 292.0V365.2M431.5 292.0h5.8M431.5 365.2h5.8M450.3 306.5V358.7M447.4 306.5h5.8M447.4 358.7h5.8M442.3 317.8V360.0M439.4 317.8h5.8M439.4 360.0h5.8M467.4 299.3V353.7M464.5 299.3h5.8M464.5 353.7h5.8M450.7 295.2V367.5M447.8 295.2h5.8M447.8 367.5h5.8M445.6 291.5V331.5M442.7 291.5h5.8M442.7 331.5h5.8M441.1 283.2V319.8M438.2 283.2h5.8M438.2 319.8h5.8M442.2 312.4V367.9M439.3 312.4h5.8M439.3 367.9h5.8M437.2 320.4V361.2M434.3 320.4h5.8M434.3 361.2h5.8M436.8 277.2V314.9M433.9 277.2h5.8M433.9 314.9h5.8M456.4 283.0V324.3M453.5 283.0h5.8M453.5 324.3h5.8M433.9 312.6V363.5M431.0 312.6h5.8M431.0 363.5h5.8M437.7 307.7V359.3M434.8 307.7h5.8M434.8 359.3h5.8M443.5 296.4V333.7M440.6 296.4h5.8M440.6 333.7h5.8M435.7 316.8V348.2M432.8 316.8h5.8M432.8 348.2h5.8M451.6 305.4V333.5M448.7 305.4h5.8M448.7 333.5h5.8M442.6 291.2V318.2M439.7 291.2h5.8M439.7 318.2h5.8M442.8 316.8V377.1M439.9 316.8h5.8M439.9 377.1h5.8M438.0 301.9V359.1M435.1 301.9h5.8M435.1 359.1h5.8M432.9 288.9V364.8M430.0 288.9h5.8M430.0 364.8h5.8M439.1 315.5V360.4M436.2 315.5h5.8M436.2 360.4h5.8M453.7 304.4V351.4M450.8 304.4h5.8M450.8 351.4h5.8M470.0 296.2V365.6M467.1 296.2h5.8M467.1 365.6h5.8M437.7 293.9V328.4M434.8 293.9h5.8M434.8 328.4h5.8M432.3 278.0V322.6M429.4 278.0h5.8M429.4 322.6h5.8M456.6 304.2V352.6M453.7 304.2h5.8M453.7 352.6h5.8M457.1 297.3V346.0M454.2 297.3h5.8M454.2 346.0h5.8M456.5 281.7V333.1M453.6 281.7h5.8M453.6 333.1h5.8M445.3 316.1V363.7M442.4 316.1h5.8M442.4 363.7h5.8M436.9 298.3V348.6M434.0 298.3h5.8M434.0 348.6h5.8M446.1 290.7V369.8M443.2 290.7h5.8M443.2 369.8h5.8M465.3 305.8V341.7M462.4 305.8h5.8M462.4 341.7h5.8M465.5 295.1V331.0M462.6 295.1h5.8M462.6 331.0h5.8M459.1 289.2V338.2M456.2 289.2h5.8M456.2 338.2h5.8M451.4 270.8V351.9M448.5 270.8h5.8M448.5 351.9h5.8M433.2 318.3V370.8M430.3 318.3h5.8M430.3 370.8h5.8M455.6 304.7V352.0M452.7 304.7h5.8M452.7 352.0h5.8M444.2 320.7V346.0M441.3 320.7h5.8M441.3 346.0h5.8M472.3 273.7V332.6M469.4 273.7h5.8M469.4 332.6h5.8M451.8 304.4V342.2M448.9 304.4h5.8M448.9 342.2h5.8M440.3 309.2V358.5M437.4 309.2h5.8M437.4 358.5h5.8M433.3 295.5V335.4M430.4 295.5h5.8M430.4 335.4h5.8M455.8 281.8V321.9M452.9 281.8h5.8M452.9 321.9h5.8M430.1 304.3V344.9M427.2 304.3h5.8M427.2 344.9h5.8M458.0 286.2V316.4M455.1 286.2h5.8M455.1 316.4h5.8M452.9 296.9V355.1M450.0 296.9h5.8M450.0 355.1h5.8M462.2 289.7V323.4M459.3 289.7h5.8M459.3 323.4h5.8M431.1 326.6V388.2M428.2 326.6h5.8M428.2 388.2h5.8M448.3 303.5V353.2M445.4 303.5h5.8M445.4 353.2h5.8M455.5 296.1V347.9M452.6 296.1h5.8M452.6 347.9h5.8M446.4 298.1V343.1M443.5 298.1h5.8M443.5 343.1h5.8M468.0 285.4V339.8M465.1 285.4h5.8M465.1 339.8h5.8M471.8 290.9V351.4M468.9 290.9h5.8M468.9 351.4h5.8M441.6 307.7V354.3M438.7 307.7h5.8M438.7 354.3h5.8M445.0 289.3V343.9M442.1 289.3h5.8M442.1 343.9h5.8M439.4 318.4V371.4M436.5 318.4h5.8M436.5 371.4h5.8M436.6 294.2V342.8M433.7 294.2h5.8M433.7 342.8h5.8M453.3 291.5V330.9M450.4 291.5h5.8M450.4 330.9h5.8M436.9 311.6V353.8M434.0 311.6h5.8M434.0 353.8h5.8M456.6 296.2V341.6M453.7 296.2h5.8M453.7 341.6h5.8M466.2 315.4V348.9M463.3 315.4h5.8M463.3 348.9h5.8M438.0 280.7V332.3M435.1 280.7h5.8M435.1 332.3h5.8M450.5 305.0V335.2M447.6 305.0h5.8M447.6 335.2h5.8M460.4 318.5V354.1M457.5 318.5h5.8M457.5 354.1h5.8M436.1 282.7V335.2M433.2 282.7h5.8M433.2 335.2h5.8M469.6 299.3V355.1M466.7 299.3h5.8M466.7 355.1h5.8M456.8 304.4V349.6M453.9 304.4h5.8M453.9 349.6h5.8M499.0 315.7V367.5M496.1 315.7h5.8M496.1 367.5h5.8M521.0 296.6V356.3M518.1 296.6h5.8M518.1 356.3h5.8M512.8 301.8V355.0M509.9 301.8h5.8M509.9 355.0h5.8M520.7 305.4V364.6M517.8 305.4h5.8M517.8 364.6h5.8M524.7 277.8V323.2M521.8 277.8h5.8M521.8 323.2h5.8M514.2 296.1V351.8M511.3 296.1h5.8M511.3 351.8h5.8M491.9 304.5V348.2M489.0 304.5h5.8M489.0 348.2h5.8M496.9 297.7V336.9M494.0 297.7h5.8M494.0 336.9h5.8M505.5 295.4V340.2M502.6 295.4h5.8M502.6 340.2h5.8M511.7 316.5V380.2M508.8 316.5h5.8M508.8 380.2h5.8M512.9 286.5V313.1M510.0 286.5h5.8M510.0 313.1h5.8M488.6 296.8V332.9M485.7 296.8h5.8M485.7 332.9h5.8M511.1 304.1V368.6M508.2 304.1h5.8M508.2 368.6h5.8M489.7 290.8V325.6M486.8 290.8h5.8M486.8 325.6h5.8M527.8 279.0V361.2M524.9 279.0h5.8M524.9 361.2h5.8M500.2 312.4V365.1M497.3 312.4h5.8M497.3 365.1h5.8M516.2 288.1V351.3M513.3 288.1h5.8M513.3 351.3h5.8M513.9 294.8V322.1M511.0 294.8h5.8M511.0 322.1h5.8M515.9 309.0V355.7M513.0 309.0h5.8M513.0 355.7h5.8M515.1 293.0V322.6M512.2 293.0h5.8M512.2 322.6h5.8M494.9 309.6V366.2M492.0 309.6h5.8M492.0 366.2h5.8M499.4 305.0V351.7M496.5 305.0h5.8M496.5 351.7h5.8M497.0 299.1V337.8M494.1 299.1h5.8M494.1 337.8h5.8M501.8 291.1V344.3M498.9 291.1h5.8M498.9 344.3h5.8M493.2 298.0V351.9M490.3 298.0h5.8M490.3 351.9h5.8M491.0 279.3V325.7M488.1 279.3h5.8M488.1 325.7h5.8M509.3 303.8V370.2M506.4 303.8h5.8M506.4 370.2h5.8M507.5 294.7V360.6M504.6 294.7h5.8M504.6 360.6h5.8M505.0 292.5V338.0M502.1 292.5h5.8M502.1 338.0h5.8M521.4 302.6V349.0M518.5 302.6h5.8M518.5 349.0h5.8M513.0 316.6V390.0M510.1 316.6h5.8M510.1 390.0h5.8M511.7 288.5V334.2M508.8 288.5h5.8M508.8 334.2h5.8M515.3 308.5V354.5M512.4 308.5h5.8M512.4 354.5h5.8M506.3 302.2V366.8M503.4 302.2h5.8M503.4 366.8h5.8M490.4 279.4V316.2M487.5 279.4h5.8M487.5 316.2h5.8M521.5 323.8V373.3M518.6 323.8h5.8M518.6 373.3h5.8M505.9 307.9V357.9M503.0 307.9h5.8M503.0 357.9h5.8M491.8 311.5V350.0M488.9 311.5h5.8M488.9 350.0h5.8M517.9 293.9V332.6M515.0 293.9h5.8M515.0 332.6h5.8M494.2 292.7V347.6M491.3 292.7h5.8M491.3 347.6h5.8M496.7 305.2V360.2M493.8 305.2h5.8M493.8 360.2h5.8M510.8 313.3V358.8M507.9 313.3h5.8M507.9 358.8h5.8M490.3 310.4V354.9M487.4 310.4h5.8M487.4 354.9h5.8M501.9 305.3V353.2M499.0 305.3h5.8M499.0 353.2h5.8M496.9 284.0V346.2M494.0 284.0h5.8M494.0 346.2h5.8M518.5 301.2V349.1M515.6 301.2h5.8M515.6 349.1h5.8M489.9 275.8V328.4M487.0 275.8h5.8M487.0 328.4h5.8M528.2 295.2V343.2M525.3 295.2h5.8M525.3 343.2h5.8M489.5 298.6V353.0M486.6 298.6h5.8M486.6 353.0h5.8M512.2 297.0V352.6M509.3 297.0h5.8M509.3 352.6h5.8M513.3 303.0V352.4M510.4 303.0h5.8M510.4 352.4h5.8M511.5 286.1V319.1M508.6 286.1h5.8M508.6 319.1h5.8M494.3 316.8V367.0M491.4 316.8h5.8M491.4 367.0h5.8M514.5 292.1V348.9M511.6 292.1h5.8M511.6 348.9h5.8M521.8 275.4V319.6M518.9 275.4h5.8M518.9 319.6h5.8M519.8 305.9V348.9M516.9 305.9h5.8M516.9 348.9h5.8M505.5 298.5V344.7M502.6 298.5h5.8M502.6 344.7h5.8M504.4 320.8V376.4M501.5 320.8h5.8M501.5 376.4h5.8M503.9 302.9V346.9M501.0 302.9h5.8M501.0 346.9h5.8M516.5 315.0V350.8M513.6 315.0h5.8M513.6 350.8h5.8M497.6 309.6V352.5M494.7 309.6h5.8M494.7 352.5h5.8M502.1 309.1V358.6M499.2 309.1h5.8M499.2 358.6h5.8M495.9 279.6V322.1M493.0 279.6h5.8M493.0 322.1h5.8M490.9 283.8V334.8M488.0 283.8h5.8M488.0 334.8h5.8M495.4 285.5V326.5M492.5 285.5h5.8M492.5 326.5h5.8M497.8 324.2V388.3M494.9 324.2h5.8M494.9 388.3h5.8M501.5 302.0V353.5M498.6 302.0h5.8M498.6 353.5h5.8M491.4 302.8V358.5M488.5 302.8h5.8M488.5 358.5h5.8M510.8 293.4V336.9M507.9 293.4h5.8M507.9 336.9h5.8M507.9 300.5V342.2M505.0 300.5h5.8M505.0 342.2h5.8M489.2 311.9V345.5M486.3 311.9h5.8M486.3 345.5h5.8M513.0 288.2V338.1M510.1 288.2h5.8M510.1 338.1h5.8M490.5 288.5V330.1M487.6 288.5h5.8M487.6 330.1h5.8M521.5 289.1V341.2M518.6 289.1h5.8M518.6 341.2h5.8M508.7 278.8V317.3M505.8 278.8h5.8M505.8 317.3h5.8M493.0 311.3V362.8M490.1 311.3h5.8M490.1 362.8h5.8M514.7 296.7V350.8M511.8 296.7h5.8M511.8 350.8h5.8M504.2 282.2V325.5M501.3 282.2h5.8M501.3 325.5h5.8M496.1 295.3V336.9M493.2 295.3h5.8M493.2 336.9h5.8M501.4 295.6V347.3M498.5 295.6h5.8M498.5 347.3h5.8M509.4 294.0V342.7M506.5 294.0h5.8M506.5 342.7h5.8M513.9 305.5V349.7M511.0 305.5h5.8M511.0 349.7h5.8M519.9 309.5V363.2M517.0 309.5h5.8M517.0 363.2h5.8M517.4 302.2V342.9M514.5 302.2h5.8M514.5 342.9h5.8M525.6 287.2V326.5M522.7 287.2h5.8M522.7 326.5h5.8M496.1 298.3V344.3M493.2 298.3h5.8M493.2 344.3h5.8M556.7 298.2V348.1M553.8 298.2h5.8M553.8 348.1h5.8M561.2 276.6V333.6M558.3 276.6h5.8M558.3 333.6h5.8M568.1 276.6V315.3M565.2 276.6h5.8M565.2 315.3h5.8M569.5 310.4V376.0M566.6 310.4h5.8M566.6 376.0h5.8M567.2 295.8V335.9M564.3 295.8h5.8M564.3 335.9h5.8M562.5 301.1V346.4M559.6 301.1h5.8M559.6 346.4h5.8M571.9 314.9V384.7M569.0 314.9h5.8M569.0 384.7h5.8M558.5 290.2V338.2M555.6 290.2h5.8M555.6 338.2h5.8M562.9 298.3V345.5M560.0 298.3h5.8M560.0 345.5h5.8M560.7 300.2V353.0M557.8 300.2h5.8M557.8 353.0h5.8M564.2 279.6V340.2M561.3 279.6h5.8M561.3 340.2h5.8M561.3 309.3V360.4M558.4 309.3h5.8M558.4 360.4h5.8M560.2 306.0V358.3M557.3 306.0h5.8M557.3 358.3h5.8M556.0 277.7V306.6M553.1 277.7h5.8M553.1 306.6h5.8M556.4 284.7V338.8M553.5 284.7h5.8M553.5 338.8h5.8M572.3 307.0V349.6M569.4 307.0h5.8M569.4 349.6h5.8M556.4 263.9V307.1M553.5 263.9h5.8M553.5 307.1h5.8M558.3 279.3V335.0M555.4 279.3h5.8M555.4 335.0h5.8M562.8 301.5V348.9M559.9 301.5h5.8M559.9 348.9h5.8M568.2 278.8V319.8M565.3 278.8h5.8M565.3 319.8h5.8M565.5 284.7V330.8M562.6 284.7h5.8M562.6 330.8h5.8M565.3 291.1V328.4M562.4 291.1h5.8M562.4 328.4h5.8M561.5 303.0V352.4M558.6 303.0h5.8M558.6 352.4h5.8M561.4 301.2V340.6M558.5 301.2h5.8M558.5 340.6h5.8M569.5 281.8V340.0M566.6 281.8h5.8M566.6 340.0h5.8M571.0 301.6V353.4M568.1 301.6h5.8M568.1 353.4h5.8M569.2 319.1V374.9M566.3 319.1h5.8M566.3 374.9h5.8M563.0 296.9V362.3M560.1 296.9h5.8M560.1 362.3h5.8M567.2 281.4V337.0M564.3 281.4h5.8M564.3 337.0h5.8M557.2 294.0V343.7M554.3 294.0h5.8M554.3 343.7h5.8M561.1 298.3V340.3M558.2 298.3h5.8M558.2 340.3h5.8M569.2 299.4V364.5M566.3 299.4h5.8M566.3 364.5h5.8M564.8 281.0V335.2M561.9 281.0h5.8M561.9 335.2h5.8M564.1 302.4V362.3M561.2 302.4h5.8M561.2 362.3h5.8M572.2 316.2V372.7M569.3 316.2h5.8M569.3 372.7h5.8M564.4 319.7V366.9M561.5 319.7h5.8M561.5 366.9h5.8M568.1 294.4V347.9M565.2 294.4h5.8M565.2 347.9h5.8M563.5 296.2V345.6M560.6 296.2h5.8M560.6 345.6h5.8M564.7 322.7V383.7M561.8 322.7h5.8M561.8 383.7h5.8M558.4 286.6V331.4M555.5 286.6h5.8M555.5 331.4h5.8M562.8 327.6V391.3M559.9 327.6h5.8M559.9 391.3h5.8M566.8 293.0V336.2M563.9 293.0h5.8M563.9 336.2h5.8M562.2 295.2V337.5M559.3 295.2h5.8M559.3 337.5h5.8M558.5 273.8V338.5M555.6 273.8h5.8M555.6 338.5h5.8M560.1 294.6V340.2M557.2 294.6h5.8M557.2 340.2h5.8M563.3 307.2V333.2M560.4 307.2h5.8M560.4 333.2h5.8M571.4 305.1V351.6M568.5 305.1h5.8M568.5 351.6h5.8M571.4 300.8V347.5M568.5 300.8h5.8M568.5 347.5h5.8M571.7 299.0V355.3M568.8 299.0h5.8M568.8 355.3h5.8M559.0 297.5V337.2M556.1 297.5h5.8M556.1 337.2h5.8M559.5 288.6V341.6M556.6 288.6h5.8M556.6 341.6h5.8M560.3 292.5V386.8M557.4 292.5h5.8M557.4 386.8h5.8M557.6 273.3V317.1M554.7 273.3h5.8M554.7 317.1h5.8M557.8 270.3V309.9M554.9 270.3h5.8M554.9 309.9h5.8M561.0 298.0V341.6M558.1 298.0h5.8M558.1 341.6h5.8M570.0 315.6V362.5M567.1 315.6h5.8M567.1 362.5h5.8M566.8 304.0V357.7M563.9 304.0h5.8M563.9 357.7h5.8M569.2 292.2V343.2M566.3 292.2h5.8M566.3 343.2h5.8M581.3 295.9V345.2M578.4 295.9h5.8M578.4 345.2h5.8M586.7 330.0V398.6M583.8 330.0h5.8M583.8 398.6h5.8M580.1 300.5V337.2M577.2 300.5h5.8M577.2 337.2h5.8M576.8 295.1V359.6M573.9 295.1h5.8M573.9 359.6h5.8M576.0 307.1V347.0M573.1 307.1h5.8M573.1 347.0h5.8M573.5 288.3V368.2M570.6 288.3h5.8M570.6 368.2h5.8M574.1 291.7V349.5M571.2 291.7h5.8M571.2 349.5h5.8M573.4 297.5V387.1M570.5 297.5h5.8M570.5 387.1h5.8M577.3 290.8V354.5M574.4 290.8h5.8M574.4 354.5h5.8M576.6 302.0V368.6M573.7 302.0h5.8M573.7 368.6h5.8M574.0 297.1V379.2M571.1 297.1h5.8M571.1 379.2h5.8M580.4 288.6V355.6M577.5 288.6h5.8M577.5 355.6h5.8M575.4 283.5V338.2M572.5 283.5h5.8M572.5 338.2h5.8M585.3 296.1V362.1M582.4 296.1h5.8M582.4 362.1h5.8M580.0 281.7V347.5M577.1 281.7h5.8M577.1 347.5h5.8M585.6 328.2V372.2M582.7 328.2h5.8M582.7 372.2h5.8M552.8 229.4V248.0M549.9 229.4h5.8M549.9 248.0h5.8M552.9 236.0V253.0M550.0 236.0h5.8M550.0 253.0h5.8M553.2 237.2V257.6M550.3 237.2h5.8M550.3 257.6h5.8M553.0 239.2V260.1M550.1 239.2h5.8M550.1 260.1h5.8M553.4 243.1V263.3M550.5 243.1h5.8M550.5 263.3h5.8M552.8 245.9V264.1M549.9 245.9h5.8M549.9 264.1h5.8M553.1 249.0V272.3M550.2 249.0h5.8M550.2 272.3h5.8M553.2 250.5V274.9M550.3 250.5h5.8M550.3 274.9h5.8M553.8 256.6V276.7M550.9 256.6h5.8M550.9 276.7h5.8M553.7 254.8V280.4M550.8 254.8h5.8M550.8 280.4h5.8M553.6 256.4V284.0M550.7 256.4h5.8M550.7 284.0h5.8M554.5 259.6V286.4M551.6 259.6h5.8M551.6 286.4h5.8M553.9 264.2V291.6M551.0 264.2h5.8M551.0 291.6h5.8M554.7 265.5V293.7M551.8 265.5h5.8M551.8 293.7h5.8M554.7 269.6V299.0M551.8 269.6h5.8M551.8 299.0h5.8M554.7 269.5V303.1M551.8 269.5h5.8M551.8 303.1h5.8M555.1 274.3V305.2M552.2 274.3h5.8M552.2 305.2h5.8M555.7 274.6V306.5M552.8 274.6h5.8M552.8 306.5h5.8M556.4 276.9V310.2M553.5 276.9h5.8M553.5 310.2h5.8M556.1 280.8V310.6M553.2 280.8h5.8M553.2 310.6h5.8M557.2 281.8V316.9M554.3 281.8h5.8M554.3 316.9h5.8M557.4 283.7V321.1M554.5 283.7h5.8M554.5 321.1h5.8M556.5 288.8V321.0M553.6 288.8h5.8M553.6 321.0h5.8M555.7 289.0V325.7M552.8 289.0h5.8M552.8 325.7h5.8M95.4 256.4V306.0M92.5 256.4h5.8M92.5 306.0h5.8M98.6 272.0V312.0M95.7 272.0h5.8M95.7 312.0h5.8M103.4 261.0V305.0M100.5 261.0h5.8M100.5 305.0h5.8M106.0 256.0V298.0M103.1 256.0h5.8M103.1 298.0h5.8M107.0 260.0V308.0M104.1 260.0h5.8M104.1 308.0h5.8M113.6 254.0V304.0M110.7 254.0h5.8M110.7 304.0h5.8M117.0 259.4V305.0M114.1 259.4h5.8M114.1 305.0h5.8M122.6 233.4V329.0M119.7 233.4h5.8M119.7 329.0h5.8M122.2 238.6V330.0M119.3 238.6h5.8M119.3 330.0h5.8M121.5 249.4V311.0M118.6 249.4h5.8M118.6 311.0h5.8M127.0 262.0V332.0M124.1 262.0h5.8M124.1 332.0h5.8M126.6 270.6V336.0M123.7 270.6h5.8M123.7 336.0h5.8M91.4 304.0V397.0M88.5 304.0h5.8M88.5 397.0h5.8M91.0 312.0V368.0M88.1 312.0h5.8M88.1 368.0h5.8M99.0 316.0V384.4M96.1 316.0h5.8M96.1 384.4h5.8M105.0 313.0V379.0M102.1 313.0h5.8M102.1 379.0h5.8M109.0 314.0V372.0M106.1 314.0h5.8M106.1 372.0h5.8M115.0 317.0V379.0M112.1 317.0h5.8M112.1 379.0h5.8M118.0 312.0V404.4M115.1 312.0h5.8M115.1 404.4h5.8M123.4 329.0V411.0M120.5 329.0h5.8M120.5 411.0h5.8M122.0 326.0V397.0M119.1 326.0h5.8M119.1 397.0h5.8M93.0 311.0V361.0M90.1 311.0h5.8M90.1 361.0h5.8M148.6 274.0V322.0M145.7 274.0h5.8M145.7 322.0h5.8M154.0 273.0V321.0M151.1 273.0h5.8M151.1 321.0h5.8M159.0 257.0V291.0M156.1 257.0h5.8M156.1 291.0h5.8M160.6 266.0V312.0M157.7 266.0h5.8M157.7 312.0h5.8M170.6 240.0V310.0M167.7 240.0h5.8M167.7 310.0h5.8M174.0 257.4V311.0M171.1 257.4h5.8M171.1 311.0h5.8M176.0 272.0V318.0M173.1 272.0h5.8M173.1 318.0h5.8M181.4 260.0V312.0M178.5 260.0h5.8M178.5 312.0h5.8M182.4 265.0V315.0M179.5 265.0h5.8M179.5 315.0h5.8M184.0 272.6V321.0M181.1 272.6h5.8M181.1 321.0h5.8M149.0 298.0V342.0M146.1 298.0h5.8M146.1 342.0h5.8M155.0 316.0V378.4M152.1 316.0h5.8M152.1 378.4h5.8M155.4 313.0V367.0M152.5 313.0h5.8M152.5 367.0h5.8M160.6 299.0V401.0M157.7 299.0h5.8M157.7 401.0h5.8M160.2 318.0V368.0M157.3 318.0h5.8M157.3 368.0h5.8M169.0 316.0V374.0M166.1 316.0h5.8M166.1 374.0h5.8M173.0 322.0V414.0M170.1 322.0h5.8M170.1 414.0h5.8M175.4 331.0V413.0M172.5 331.0h5.8M172.5 413.0h5.8M182.0 312.0V376.0M179.1 312.0h5.8M179.1 376.0h5.8M184.0 300.0V348.4M181.1 300.0h5.8M181.1 348.4h5.8M202.4 256.4V316.0M199.5 256.4h5.8M199.5 316.0h5.8M208.4 254.6V294.0M205.5 254.6h5.8M205.5 294.0h5.8M211.0 260.6V305.0M208.1 260.6h5.8M208.1 305.0h5.8M219.0 255.6V304.0M216.1 255.6h5.8M216.1 304.0h5.8M228.0 255.6V306.0M225.1 255.6h5.8M225.1 306.0h5.8M233.0 234.4V306.0M230.1 234.4h5.8M230.1 306.0h5.8M239.0 244.4V294.0M236.1 244.4h5.8M236.1 294.0h5.8M242.0 271.4V321.0M239.1 271.4h5.8M239.1 321.0h5.8M241.6 283.0V331.0M238.7 283.0h5.8M238.7 331.0h5.8M239.6 266.0V312.0M236.7 266.0h5.8M236.7 312.0h5.8M203.0 282.0V382.0M200.1 282.0h5.8M200.1 382.0h5.8M206.0 301.0V396.6M203.1 301.0h5.8M203.1 396.6h5.8M215.0 321.0V399.0M212.1 321.0h5.8M212.1 399.0h5.8M214.6 312.0V380.0M211.7 312.0h5.8M211.7 380.0h5.8M220.0 316.0V386.0M217.1 316.0h5.8M217.1 386.0h5.8M225.0 315.0V389.0M222.1 315.0h5.8M222.1 389.0h5.8M225.4 312.0V372.4M222.5 312.0h5.8M222.5 372.4h5.8M233.0 314.0V395.6M230.1 314.0h5.8M230.1 395.6h5.8M237.0 310.0V390.0M234.1 310.0h5.8M234.1 390.0h5.8M237.4 314.0V372.0M234.5 314.0h5.8M234.5 372.0h5.8M240.4 308.0V365.6M237.5 308.0h5.8M237.5 365.6h5.8M238.0 313.0V369.0M235.1 313.0h5.8M235.1 369.0h5.8M260.6 245.4V301.0M257.7 245.4h5.8M257.7 301.0h5.8M260.4 256.6V306.0M257.5 256.6h5.8M257.5 306.0h5.8M265.7 271.2V310.0M262.8 271.2h5.8M262.8 310.0h5.8M265.7 274.0V318.0M262.8 274.0h5.8M262.8 318.0h5.8M265.3 279.0V343.5M262.4 279.0h5.8M262.4 343.5h5.8M260.2 289.0V333.0M257.3 289.0h5.8M257.3 333.0h5.8M266.0 284.4V337.6M263.1 284.4h5.8M263.1 337.6h5.8M260.5 292.3V349.0M257.6 292.3h5.8M257.6 349.0h5.8M264.0 299.6V345.6M261.1 299.6h5.8M261.1 345.6h5.8M265.5 305.5V344.5M262.6 305.5h5.8M262.6 344.5h5.8M259.8 299.0V363.8M256.9 299.0h5.8M256.9 363.8h5.8M262.6 311.0V364.0M259.7 311.0h5.8M259.7 364.0h5.8M264.1 283.0V383.3M261.2 283.0h5.8M261.2 383.3h5.8M260.8 297.0V339.0M257.9 297.0h5.8M257.9 339.0h5.8M402.4 224.8V311.0M399.5 224.8h5.8M399.5 311.0h5.8M402.0 257.4V295.0M399.1 257.4h5.8M399.1 295.0h5.8M405.0 262.0V308.0M402.1 262.0h5.8M402.1 308.0h5.8M413.0 254.4V307.0M410.1 254.4h5.8M410.1 307.0h5.8M411.0 258.6V309.0M408.1 258.6h5.8M408.1 309.0h5.8M408.0 260.6V311.0M405.1 260.6h5.8M405.1 311.0h5.8M407.8 326.0V445.0M404.9 326.0h5.8M404.9 445.0h5.8M411.0 321.0V394.6M408.1 321.0h5.8M408.1 394.6h5.8M411.4 327.0V397.0M408.5 327.0h5.8M408.5 397.0h5.8M414.0 314.0V385.0M411.1 314.0h5.8M411.1 385.0h5.8M414.2 294.0V380.0M411.3 294.0h5.8M411.3 380.0h5.8M401.0 306.0V354.0M398.1 306.0h5.8M398.1 354.0h5.8M401.4 316.0V370.0M398.5 316.0h5.8M398.5 370.0h5.8M431.0 261.4V316.0M428.1 261.4h5.8M428.1 316.0h5.8M435.0 258.0V301.0M432.1 258.0h5.8M432.1 301.0h5.8M432.0 262.0V297.0M429.1 262.0h5.8M429.1 297.0h5.8M444.4 258.4V322.0M441.5 258.4h5.8M441.5 322.0h5.8M447.0 262.0V305.0M444.1 262.0h5.8M444.1 305.0h5.8M453.6 263.6V320.0M450.7 263.6h5.8M450.7 320.0h5.8M461.6 262.4V312.0M458.7 262.4h5.8M458.7 312.0h5.8M467.0 265.6V322.0M464.1 265.6h5.8M464.1 322.0h5.8M471.6 262.0V341.0M468.7 262.0h5.8M468.7 341.0h5.8M465.6 270.0V322.0M462.7 270.0h5.8M462.7 322.0h5.8M430.4 286.0V330.0M427.5 286.0h5.8M427.5 330.0h5.8M433.6 320.0V370.0M430.7 320.0h5.8M430.7 370.0h5.8M433.8 321.0V382.6M430.9 321.0h5.8M430.9 382.6h5.8M440.4 339.0V407.4M437.5 339.0h5.8M437.5 407.4h5.8M444.4 320.0V380.0M441.5 320.0h5.8M441.5 380.0h5.8M452.0 339.0V408.0M449.1 339.0h5.8M449.1 408.0h5.8M454.0 344.0V428.0M451.1 344.0h5.8M451.1 428.0h5.8M463.0 331.0V406.0M460.1 331.0h5.8M460.1 406.0h5.8M468.1 304.0V419.4M465.2 304.0h5.8M465.2 419.4h5.8M468.4 314.0V390.0M465.5 314.0h5.8M465.5 390.0h5.8M467.6 312.0V380.0M464.7 312.0h5.8M464.7 380.0h5.8M470.0 305.0V360.0M467.1 305.0h5.8M467.1 360.0h5.8M492.0 268.6V307.0M489.1 268.6h5.8M489.1 307.0h5.8M497.6 264.0V308.0M494.7 264.0h5.8M494.7 308.0h5.8M501.6 270.6V313.0M498.7 270.6h5.8M498.7 313.0h5.8M506.0 263.0V307.0M503.1 263.0h5.8M503.1 307.0h5.8M508.4 261.4V307.0M505.5 261.4h5.8M505.5 307.0h5.8M523.0 241.4V311.0M520.1 241.4h5.8M520.1 311.0h5.8M522.4 262.4V319.0M519.5 262.4h5.8M519.5 319.0h5.8M529.0 270.0V342.0M526.1 270.0h5.8M526.1 342.0h5.8M505.6 268.0V313.0M502.7 268.0h5.8M502.7 313.0h5.8M488.4 309.0V366.6M485.5 309.0h5.8M485.5 366.6h5.8M494.4 314.0V382.0M491.5 314.0h5.8M491.5 382.0h5.8M500.0 321.0V379.0M497.1 321.0h5.8M497.1 379.0h5.8M504.0 317.0V385.4M501.1 317.0h5.8M501.1 385.4h5.8M509.6 310.0V402.4M506.7 310.0h5.8M506.7 402.4h5.8M509.2 318.0V386.0M506.3 318.0h5.8M506.3 386.0h5.8M515.0 315.0V375.0M512.1 315.0h5.8M512.1 375.0h5.8M517.0 313.0V368.6M514.1 313.0h5.8M514.1 368.6h5.8M523.6 304.0V361.0M520.7 304.0h5.8M520.7 361.0h5.8M528.0 298.0V347.0M525.1 298.0h5.8M525.1 347.0h5.8M545.6 264.0V298.6M542.7 264.0h5.8M542.7 298.6h5.8M545.8 262.0V299.0M542.9 262.0h5.8M542.9 299.0h5.8M563.6 254.4V314.0M560.7 254.4h5.8M560.7 314.0h5.8M569.4 257.0V321.0M566.5 257.0h5.8M566.5 321.0h5.8M572.0 261.0V321.0M569.1 261.0h5.8M569.1 321.0h5.8M578.0 257.6V310.0M575.1 257.6h5.8M575.1 310.0h5.8M584.0 263.0V323.0M581.1 263.0h5.8M581.1 323.0h5.8M571.0 264.0V313.0M568.1 264.0h5.8M568.1 313.0h5.8M574.0 266.0V316.0M571.1 266.0h5.8M571.1 316.0h5.8M556.4 308.0V362.0M553.5 308.0h5.8M553.5 362.0h5.8M566.4 326.0V380.0M563.5 326.0h5.8M563.5 380.0h5.8M566.6 337.0V383.0M563.7 337.0h5.8M563.7 383.0h5.8M566.2 331.0V407.4M563.3 331.0h5.8M563.3 407.4h5.8M566.8 321.0V390.6M563.9 321.0h5.8M563.9 390.6h5.8M567.0 318.0V386.0M564.1 318.0h5.8M564.1 386.0h5.8M569.0 323.0V409.0M566.1 323.0h5.8M566.1 409.0h5.8M575.0 340.0V416.4M572.1 340.0h5.8M572.1 416.4h5.8M582.4 327.0V420.0M579.5 327.0h5.8M579.5 420.0h5.8M582.6 310.0V397.0M579.7 310.0h5.8M579.7 397.0h5.8M582.0 308.0V392.0M579.1 308.0h5.8M579.1 392.0h5.8M549.5 124.6V141.0M546.6 124.6h5.8M546.6 141.0h5.8M549.1 131.8V148.0M546.2 131.8h5.8M546.2 148.0h5.8M549.8 141.0V157.5M546.9 141.0h5.8M546.9 157.5h5.8M548.3 159.3V170.5M545.4 159.3h5.8M545.4 170.5h5.8M549.0 152.6V163.5M546.1 152.6h5.8M546.1 163.5h5.8M550.9 160.0V182.8M548.0 160.0h5.8M548.0 182.8h5.8M551.0 167.5V188.2M548.1 167.5h5.8M548.1 188.2h5.8M548.0 188.3V214.0M545.1 188.3h5.8M545.1 214.0h5.8M545.7 183.8V225.0M542.8 183.8h5.8M542.8 225.0h5.8M551.5 192.6V221.0M548.6 192.6h5.8M548.6 221.0h5.8M546.2 208.6V248.2M543.3 208.6h5.8M543.3 248.2h5.8M552.4 225.9V256.0M549.5 225.9h5.8M549.5 256.0h5.8" fill="none" stroke="#000" stroke-width="1.15"/>
<g fill="#000">
<circle cx="126.2" cy="309.9" r="2.7"/>
<circle cx="119.6" cy="294.6" r="2.7"/>
<circle cx="91.2" cy="317.2" r="2.7"/>
<circle cx="99.3" cy="338.2" r="2.7"/>
<circle cx="110.3" cy="327.7" r="2.7"/>
<circle cx="102.2" cy="301.0" r="2.7"/>
<circle cx="115.3" cy="292.1" r="2.7"/>
<circle cx="93.6" cy="324.3" r="2.7"/>
<circle cx="103.2" cy="325.7" r="2.7"/>
<circle cx="119.2" cy="324.9" r="2.7"/>
<circle cx="114.1" cy="310.7" r="2.7"/>
<circle cx="102.0" cy="325.6" r="2.7"/>
<circle cx="103.7" cy="317.3" r="2.7"/>
<circle cx="103.1" cy="338.6" r="2.7"/>
<circle cx="125.2" cy="326.7" r="2.7"/>
<circle cx="94.2" cy="311.7" r="2.7"/>
<circle cx="105.4" cy="322.6" r="2.7"/>
<circle cx="113.1" cy="311.8" r="2.7"/>
<circle cx="96.9" cy="311.3" r="2.7"/>
<circle cx="102.1" cy="286.3" r="2.7"/>
<circle cx="118.8" cy="331.7" r="2.7"/>
<circle cx="100.2" cy="337.2" r="2.7"/>
<circle cx="103.5" cy="325.6" r="2.7"/>
<circle cx="96.4" cy="350.3" r="2.7"/>
<circle cx="117.1" cy="324.3" r="2.7"/>
<circle cx="119.7" cy="335.6" r="2.7"/>
<circle cx="107.6" cy="322.1" r="2.7"/>
<circle cx="109.6" cy="300.2" r="2.7"/>
<circle cx="96.9" cy="338.8" r="2.7"/>
<circle cx="111.7" cy="298.2" r="2.7"/>
<circle cx="112.6" cy="328.8" r="2.7"/>
<circle cx="99.5" cy="318.9" r="2.7"/>
<circle cx="118.0" cy="292.8" r="2.7"/>
<circle cx="114.2" cy="334.9" r="2.7"/>
<circle cx="109.1" cy="316.1" r="2.7"/>
<circle cx="125.2" cy="322.3" r="2.7"/>
<circle cx="107.6" cy="327.4" r="2.7"/>
<circle cx="114.4" cy="330.4" r="2.7"/>
<circle cx="112.3" cy="303.1" r="2.7"/>
<circle cx="97.3" cy="330.4" r="2.7"/>
<circle cx="115.6" cy="323.7" r="2.7"/>
<circle cx="125.0" cy="290.5" r="2.7"/>
<circle cx="104.3" cy="315.2" r="2.7"/>
<circle cx="103.4" cy="316.2" r="2.7"/>
<circle cx="124.4" cy="319.3" r="2.7"/>
<circle cx="117.3" cy="337.8" r="2.7"/>
<circle cx="97.2" cy="289.5" r="2.7"/>
<circle cx="93.0" cy="313.9" r="2.7"/>
<circle cx="99.3" cy="321.0" r="2.7"/>
<circle cx="107.3" cy="301.4" r="2.7"/>
<circle cx="111.2" cy="333.3" r="2.7"/>
<circle cx="122.7" cy="321.4" r="2.7"/>
<circle cx="115.0" cy="323.4" r="2.7"/>
<circle cx="98.4" cy="284.9" r="2.7"/>
<circle cx="121.6" cy="324.8" r="2.7"/>
<circle cx="95.5" cy="332.3" r="2.7"/>
<circle cx="118.9" cy="305.4" r="2.7"/>
<circle cx="124.3" cy="330.8" r="2.7"/>
<circle cx="116.6" cy="306.5" r="2.7"/>
<circle cx="98.9" cy="315.8" r="2.7"/>
<circle cx="114.1" cy="338.1" r="2.7"/>
<circle cx="122.8" cy="315.3" r="2.7"/>
<circle cx="114.4" cy="317.5" r="2.7"/>
<circle cx="103.4" cy="322.2" r="2.7"/>
<circle cx="93.2" cy="309.9" r="2.7"/>
<circle cx="95.5" cy="317.0" r="2.7"/>
<circle cx="100.6" cy="318.8" r="2.7"/>
<circle cx="116.6" cy="322.0" r="2.7"/>
<circle cx="108.8" cy="324.0" r="2.7"/>
<circle cx="106.0" cy="310.7" r="2.7"/>
<circle cx="116.7" cy="315.7" r="2.7"/>
<circle cx="123.8" cy="310.1" r="2.7"/>
<circle cx="91.9" cy="319.7" r="2.7"/>
<circle cx="99.9" cy="314.5" r="2.7"/>
<circle cx="111.9" cy="343.8" r="2.7"/>
<circle cx="91.5" cy="300.3" r="2.7"/>
<circle cx="100.5" cy="344.9" r="2.7"/>
<circle cx="110.1" cy="306.9" r="2.7"/>
<circle cx="119.8" cy="289.8" r="2.7"/>
<circle cx="109.0" cy="307.0" r="2.7"/>
<circle cx="126.7" cy="301.9" r="2.7"/>
<circle cx="123.5" cy="312.3" r="2.7"/>
<circle cx="127.0" cy="307.2" r="2.7"/>
<circle cx="116.1" cy="297.5" r="2.7"/>
<circle cx="109.2" cy="321.8" r="2.7"/>
<circle cx="117.5" cy="329.6" r="2.7"/>
<circle cx="113.5" cy="309.5" r="2.7"/>
<circle cx="96.8" cy="314.6" r="2.7"/>
<circle cx="90.9" cy="330.9" r="2.7"/>
<circle cx="101.9" cy="303.2" r="2.7"/>
<circle cx="120.9" cy="318.3" r="2.7"/>
<circle cx="121.1" cy="318.7" r="2.7"/>
<circle cx="118.5" cy="341.8" r="2.7"/>
<circle cx="99.0" cy="309.7" r="2.7"/>
<circle cx="124.0" cy="325.8" r="2.7"/>
<circle cx="119.0" cy="305.8" r="2.7"/>
<circle cx="121.1" cy="309.8" r="2.7"/>
<circle cx="101.8" cy="338.4" r="2.7"/>
<circle cx="100.6" cy="317.7" r="2.7"/>
<circle cx="119.2" cy="329.5" r="2.7"/>
<circle cx="110.2" cy="329.4" r="2.7"/>
<circle cx="109.3" cy="311.0" r="2.7"/>
<circle cx="97.2" cy="327.7" r="2.7"/>
<circle cx="99.0" cy="318.1" r="2.7"/>
<circle cx="111.2" cy="328.3" r="2.7"/>
<circle cx="111.8" cy="302.2" r="2.7"/>
<circle cx="117.2" cy="307.6" r="2.7"/>
<circle cx="117.9" cy="294.4" r="2.7"/>
<circle cx="101.1" cy="318.9" r="2.7"/>
<circle cx="101.5" cy="286.4" r="2.7"/>
<circle cx="103.7" cy="335.3" r="2.7"/>
<circle cx="97.6" cy="318.8" r="2.7"/>
<circle cx="100.4" cy="317.2" r="2.7"/>
<circle cx="90.7" cy="302.4" r="2.7"/>
<circle cx="104.8" cy="327.3" r="2.7"/>
<circle cx="102.1" cy="311.7" r="2.7"/>
<circle cx="108.2" cy="297.8" r="2.7"/>
<circle cx="107.9" cy="291.9" r="2.7"/>
<circle cx="101.8" cy="304.2" r="2.7"/>
<circle cx="107.7" cy="350.1" r="2.7"/>
<circle cx="107.3" cy="311.0" r="2.7"/>
<circle cx="102.5" cy="295.6" r="2.7"/>
<circle cx="94.7" cy="341.7" r="2.7"/>
<circle cx="95.3" cy="348.2" r="2.7"/>
<circle cx="106.8" cy="328.0" r="2.7"/>
<circle cx="120.7" cy="325.4" r="2.7"/>
<circle cx="121.8" cy="309.8" r="2.7"/>
<circle cx="107.8" cy="324.7" r="2.7"/>
<circle cx="102.9" cy="317.4" r="2.7"/>
<circle cx="119.3" cy="297.9" r="2.7"/>
<circle cx="97.8" cy="325.8" r="2.7"/>
<circle cx="118.4" cy="325.7" r="2.7"/>
<circle cx="95.7" cy="329.5" r="2.7"/>
<circle cx="117.0" cy="299.6" r="2.7"/>
<circle cx="125.5" cy="326.4" r="2.7"/>
<circle cx="113.6" cy="308.1" r="2.7"/>
<circle cx="95.0" cy="313.0" r="2.7"/>
<circle cx="94.5" cy="302.3" r="2.7"/>
<circle cx="108.9" cy="295.7" r="2.7"/>
<circle cx="104.6" cy="311.5" r="2.7"/>
<circle cx="119.2" cy="326.9" r="2.7"/>
<circle cx="112.6" cy="304.9" r="2.7"/>
<circle cx="92.1" cy="314.4" r="2.7"/>
<circle cx="117.8" cy="330.6" r="2.7"/>
<circle cx="114.4" cy="313.2" r="2.7"/>
<circle cx="124.3" cy="320.1" r="2.7"/>
<circle cx="116.6" cy="313.2" r="2.7"/>
<circle cx="123.7" cy="308.5" r="2.7"/>
<circle cx="97.6" cy="294.5" r="2.7"/>
<circle cx="91.1" cy="311.4" r="2.7"/>
<circle cx="109.6" cy="305.6" r="2.7"/>
<circle cx="111.6" cy="321.8" r="2.7"/>
<circle cx="112.6" cy="318.0" r="2.7"/>
<circle cx="115.5" cy="321.7" r="2.7"/>
<circle cx="111.6" cy="320.9" r="2.7"/>
<circle cx="112.2" cy="330.8" r="2.7"/>
<circle cx="119.3" cy="321.8" r="2.7"/>
<circle cx="120.7" cy="320.9" r="2.7"/>
<circle cx="116.6" cy="318.3" r="2.7"/>
<circle cx="116.6" cy="289.8" r="2.7"/>
<circle cx="92.8" cy="317.7" r="2.7"/>
<circle cx="101.9" cy="336.2" r="2.7"/>
<circle cx="109.0" cy="295.8" r="2.7"/>
<circle cx="114.5" cy="304.9" r="2.7"/>
<circle cx="122.3" cy="333.3" r="2.7"/>
<circle cx="183.0" cy="316.7" r="2.7"/>
<circle cx="171.3" cy="308.2" r="2.7"/>
<circle cx="177.5" cy="334.9" r="2.7"/>
<circle cx="152.0" cy="309.6" r="2.7"/>
<circle cx="179.7" cy="302.0" r="2.7"/>
<circle cx="156.6" cy="314.8" r="2.7"/>
<circle cx="154.6" cy="299.3" r="2.7"/>
<circle cx="153.1" cy="330.5" r="2.7"/>
<circle cx="156.0" cy="323.8" r="2.7"/>
<circle cx="165.2" cy="315.7" r="2.7"/>
<circle cx="177.4" cy="318.2" r="2.7"/>
<circle cx="172.2" cy="311.9" r="2.7"/>
<circle cx="182.3" cy="327.2" r="2.7"/>
<circle cx="170.4" cy="320.1" r="2.7"/>
<circle cx="153.8" cy="309.8" r="2.7"/>
<circle cx="175.4" cy="309.7" r="2.7"/>
<circle cx="178.8" cy="322.9" r="2.7"/>
<circle cx="168.7" cy="332.6" r="2.7"/>
<circle cx="169.9" cy="318.6" r="2.7"/>
<circle cx="174.6" cy="308.7" r="2.7"/>
<circle cx="152.7" cy="316.5" r="2.7"/>
<circle cx="157.9" cy="320.7" r="2.7"/>
<circle cx="164.8" cy="303.1" r="2.7"/>
<circle cx="164.2" cy="317.2" r="2.7"/>
<circle cx="163.1" cy="309.8" r="2.7"/>
<circle cx="176.7" cy="315.9" r="2.7"/>
<circle cx="163.2" cy="337.6" r="2.7"/>
<circle cx="151.5" cy="293.5" r="2.7"/>
<circle cx="184.6" cy="307.4" r="2.7"/>
<circle cx="152.1" cy="314.8" r="2.7"/>
<circle cx="165.6" cy="306.5" r="2.7"/>
<circle cx="148.8" cy="307.4" r="2.7"/>
<circle cx="147.7" cy="309.4" r="2.7"/>
<circle cx="149.4" cy="308.2" r="2.7"/>
<circle cx="168.4" cy="307.0" r="2.7"/>
<circle cx="181.3" cy="322.3" r="2.7"/>
<circle cx="148.4" cy="325.6" r="2.7"/>
<circle cx="176.2" cy="322.6" r="2.7"/>
<circle cx="173.9" cy="307.6" r="2.7"/>
<circle cx="168.3" cy="314.1" r="2.7"/>
<circle cx="165.7" cy="329.8" r="2.7"/>
<circle cx="152.1" cy="334.9" r="2.7"/>
<circle cx="177.7" cy="315.5" r="2.7"/>
<circle cx="178.4" cy="321.4" r="2.7"/>
<circle cx="158.9" cy="320.2" r="2.7"/>
<circle cx="174.6" cy="302.7" r="2.7"/>
<circle cx="170.8" cy="313.3" r="2.7"/>
<circle cx="180.4" cy="314.4" r="2.7"/>
<circle cx="153.3" cy="309.5" r="2.7"/>
<circle cx="170.6" cy="328.5" r="2.7"/>
<circle cx="183.0" cy="318.3" r="2.7"/>
<circle cx="163.0" cy="306.7" r="2.7"/>
<circle cx="166.0" cy="304.4" r="2.7"/>
<circle cx="182.9" cy="326.9" r="2.7"/>
<circle cx="163.5" cy="324.8" r="2.7"/>
<circle cx="181.2" cy="315.0" r="2.7"/>
<circle cx="162.9" cy="317.7" r="2.7"/>
<circle cx="154.2" cy="326.3" r="2.7"/>
<circle cx="159.3" cy="328.3" r="2.7"/>
<circle cx="176.0" cy="291.7" r="2.7"/>
<circle cx="184.1" cy="317.4" r="2.7"/>
<circle cx="179.2" cy="327.4" r="2.7"/>
<circle cx="154.6" cy="319.8" r="2.7"/>
<circle cx="157.6" cy="315.9" r="2.7"/>
<circle cx="180.3" cy="311.4" r="2.7"/>
<circle cx="169.3" cy="306.7" r="2.7"/>
<circle cx="174.5" cy="310.5" r="2.7"/>
<circle cx="173.3" cy="305.8" r="2.7"/>
<circle cx="179.7" cy="323.0" r="2.7"/>
<circle cx="175.3" cy="324.4" r="2.7"/>
<circle cx="155.3" cy="318.8" r="2.7"/>
<circle cx="159.5" cy="316.6" r="2.7"/>
<circle cx="171.1" cy="315.7" r="2.7"/>
<circle cx="184.5" cy="308.1" r="2.7"/>
<circle cx="149.7" cy="319.6" r="2.7"/>
<circle cx="150.7" cy="323.1" r="2.7"/>
<circle cx="164.6" cy="302.2" r="2.7"/>
<circle cx="154.1" cy="292.3" r="2.7"/>
<circle cx="158.5" cy="327.4" r="2.7"/>
<circle cx="167.4" cy="295.7" r="2.7"/>
<circle cx="168.7" cy="323.9" r="2.7"/>
<circle cx="154.9" cy="324.7" r="2.7"/>
<circle cx="148.3" cy="308.0" r="2.7"/>
<circle cx="148.0" cy="309.6" r="2.7"/>
<circle cx="153.8" cy="301.5" r="2.7"/>
<circle cx="159.9" cy="303.5" r="2.7"/>
<circle cx="173.7" cy="304.1" r="2.7"/>
<circle cx="149.5" cy="317.3" r="2.7"/>
<circle cx="158.1" cy="318.7" r="2.7"/>
<circle cx="165.1" cy="302.5" r="2.7"/>
<circle cx="164.4" cy="330.6" r="2.7"/>
<circle cx="157.5" cy="306.6" r="2.7"/>
<circle cx="175.9" cy="335.9" r="2.7"/>
<circle cx="148.4" cy="304.9" r="2.7"/>
<circle cx="163.9" cy="302.6" r="2.7"/>
<circle cx="165.0" cy="322.2" r="2.7"/>
<circle cx="156.1" cy="307.4" r="2.7"/>
<circle cx="162.1" cy="324.5" r="2.7"/>
<circle cx="179.9" cy="298.2" r="2.7"/>
<circle cx="165.6" cy="330.4" r="2.7"/>
<circle cx="164.4" cy="303.0" r="2.7"/>
<circle cx="150.7" cy="323.5" r="2.7"/>
<circle cx="164.2" cy="323.6" r="2.7"/>
<circle cx="175.7" cy="325.3" r="2.7"/>
<circle cx="180.4" cy="325.1" r="2.7"/>
<circle cx="169.5" cy="318.4" r="2.7"/>
<circle cx="169.3" cy="315.4" r="2.7"/>
<circle cx="178.5" cy="301.5" r="2.7"/>
<circle cx="148.8" cy="297.9" r="2.7"/>
<circle cx="175.1" cy="312.0" r="2.7"/>
<circle cx="169.5" cy="332.8" r="2.7"/>
<circle cx="162.3" cy="309.3" r="2.7"/>
<circle cx="151.7" cy="325.2" r="2.7"/>
<circle cx="176.6" cy="324.8" r="2.7"/>
<circle cx="152.9" cy="308.1" r="2.7"/>
<circle cx="170.0" cy="319.6" r="2.7"/>
<circle cx="148.7" cy="304.6" r="2.7"/>
<circle cx="176.8" cy="308.5" r="2.7"/>
<circle cx="175.3" cy="323.8" r="2.7"/>
<circle cx="180.7" cy="321.5" r="2.7"/>
<circle cx="168.1" cy="322.3" r="2.7"/>
<circle cx="157.5" cy="310.6" r="2.7"/>
<circle cx="165.6" cy="309.7" r="2.7"/>
<circle cx="183.9" cy="329.6" r="2.7"/>
<circle cx="165.4" cy="313.6" r="2.7"/>
<circle cx="156.3" cy="312.2" r="2.7"/>
<circle cx="157.4" cy="301.5" r="2.7"/>
<circle cx="184.9" cy="304.1" r="2.7"/>
<circle cx="161.5" cy="313.7" r="2.7"/>
<circle cx="156.7" cy="301.2" r="2.7"/>
<circle cx="183.3" cy="308.8" r="2.7"/>
<circle cx="152.7" cy="311.0" r="2.7"/>
<circle cx="169.7" cy="314.6" r="2.7"/>
<circle cx="158.4" cy="308.7" r="2.7"/>
<circle cx="182.2" cy="316.3" r="2.7"/>
<circle cx="161.4" cy="306.3" r="2.7"/>
<circle cx="168.5" cy="311.4" r="2.7"/>
<circle cx="154.4" cy="315.2" r="2.7"/>
<circle cx="160.4" cy="314.4" r="2.7"/>
<circle cx="169.6" cy="313.8" r="2.7"/>
<circle cx="181.1" cy="331.1" r="2.7"/>
<circle cx="148.1" cy="311.4" r="2.7"/>
<circle cx="159.8" cy="305.5" r="2.7"/>
<circle cx="180.2" cy="320.1" r="2.7"/>
<circle cx="149.3" cy="303.4" r="2.7"/>
<circle cx="159.9" cy="322.4" r="2.7"/>
<circle cx="152.4" cy="316.6" r="2.7"/>
<circle cx="159.3" cy="336.5" r="2.7"/>
<circle cx="165.7" cy="307.6" r="2.7"/>
<circle cx="157.6" cy="299.7" r="2.7"/>
<circle cx="241.6" cy="299.5" r="2.7"/>
<circle cx="203.4" cy="311.9" r="2.7"/>
<circle cx="231.4" cy="284.4" r="2.7"/>
<circle cx="201.4" cy="312.6" r="2.7"/>
<circle cx="234.3" cy="324.5" r="2.7"/>
<circle cx="232.2" cy="314.3" r="2.7"/>
<circle cx="225.3" cy="310.0" r="2.7"/>
<circle cx="208.5" cy="332.1" r="2.7"/>
<circle cx="215.9" cy="299.8" r="2.7"/>
<circle cx="232.8" cy="320.8" r="2.7"/>
<circle cx="223.1" cy="339.2" r="2.7"/>
<circle cx="226.0" cy="313.8" r="2.7"/>
<circle cx="240.8" cy="334.2" r="2.7"/>
<circle cx="209.4" cy="333.8" r="2.7"/>
<circle cx="241.3" cy="300.0" r="2.7"/>
<circle cx="202.4" cy="322.1" r="2.7"/>
<circle cx="236.9" cy="330.3" r="2.7"/>
<circle cx="236.7" cy="329.9" r="2.7"/>
<circle cx="225.8" cy="324.2" r="2.7"/>
<circle cx="232.9" cy="333.1" r="2.7"/>
<circle cx="238.9" cy="305.8" r="2.7"/>
<circle cx="236.5" cy="308.4" r="2.7"/>
<circle cx="208.7" cy="317.5" r="2.7"/>
<circle cx="238.7" cy="283.8" r="2.7"/>
<circle cx="216.1" cy="305.5" r="2.7"/>
<circle cx="213.0" cy="327.9" r="2.7"/>
<circle cx="224.4" cy="297.5" r="2.7"/>
<circle cx="207.7" cy="295.0" r="2.7"/>
<circle cx="205.4" cy="344.7" r="2.7"/>
<circle cx="221.9" cy="301.8" r="2.7"/>
<circle cx="228.3" cy="313.7" r="2.7"/>
<circle cx="241.7" cy="308.7" r="2.7"/>
<circle cx="206.2" cy="285.3" r="2.7"/>
<circle cx="204.7" cy="304.9" r="2.7"/>
<circle cx="234.3" cy="299.8" r="2.7"/>
<circle cx="236.2" cy="318.4" r="2.7"/>
<circle cx="201.5" cy="296.8" r="2.7"/>
<circle cx="241.6" cy="295.5" r="2.7"/>
<circle cx="223.5" cy="345.4" r="2.7"/>
<circle cx="221.9" cy="339.2" r="2.7"/>
<circle cx="219.5" cy="307.9" r="2.7"/>
<circle cx="229.8" cy="301.0" r="2.7"/>
<circle cx="201.7" cy="299.4" r="2.7"/>
<circle cx="238.4" cy="320.0" r="2.7"/>
<circle cx="224.2" cy="311.4" r="2.7"/>
<circle cx="235.7" cy="301.0" r="2.7"/>
<circle cx="216.7" cy="322.7" r="2.7"/>
<circle cx="228.7" cy="323.8" r="2.7"/>
<circle cx="228.0" cy="308.0" r="2.7"/>
<circle cx="217.1" cy="300.0" r="2.7"/>
<circle cx="228.8" cy="308.3" r="2.7"/>
<circle cx="209.5" cy="339.8" r="2.7"/>
<circle cx="241.4" cy="314.6" r="2.7"/>
<circle cx="207.1" cy="316.4" r="2.7"/>
<circle cx="231.0" cy="319.0" r="2.7"/>
<circle cx="212.1" cy="331.0" r="2.7"/>
<circle cx="220.0" cy="313.5" r="2.7"/>
<circle cx="230.2" cy="302.3" r="2.7"/>
<circle cx="208.9" cy="313.0" r="2.7"/>
<circle cx="233.2" cy="310.1" r="2.7"/>
<circle cx="224.3" cy="324.4" r="2.7"/>
<circle cx="238.8" cy="323.3" r="2.7"/>
<circle cx="223.8" cy="333.7" r="2.7"/>
<circle cx="208.3" cy="304.3" r="2.7"/>
<circle cx="211.9" cy="305.0" r="2.7"/>
<circle cx="210.5" cy="320.1" r="2.7"/>
<circle cx="219.8" cy="337.9" r="2.7"/>
<circle cx="232.9" cy="283.0" r="2.7"/>
<circle cx="212.2" cy="287.8" r="2.7"/>
<circle cx="240.9" cy="302.5" r="2.7"/>
<circle cx="236.9" cy="317.2" r="2.7"/>
<circle cx="215.8" cy="307.0" r="2.7"/>
<circle cx="238.9" cy="326.0" r="2.7"/>
<circle cx="228.6" cy="304.7" r="2.7"/>
<circle cx="207.2" cy="287.0" r="2.7"/>
<circle cx="217.7" cy="289.5" r="2.7"/>
<circle cx="220.8" cy="307.1" r="2.7"/>
<circle cx="213.9" cy="328.5" r="2.7"/>
<circle cx="206.3" cy="343.1" r="2.7"/>
<circle cx="207.7" cy="335.0" r="2.7"/>
<circle cx="208.9" cy="314.1" r="2.7"/>
<circle cx="221.3" cy="319.7" r="2.7"/>
<circle cx="215.5" cy="346.7" r="2.7"/>
<circle cx="230.2" cy="308.4" r="2.7"/>
<circle cx="236.0" cy="325.0" r="2.7"/>
<circle cx="204.0" cy="326.0" r="2.7"/>
<circle cx="207.0" cy="323.1" r="2.7"/>
<circle cx="216.2" cy="293.2" r="2.7"/>
<circle cx="235.7" cy="315.4" r="2.7"/>
<circle cx="204.6" cy="305.7" r="2.7"/>
<circle cx="234.9" cy="324.9" r="2.7"/>
<circle cx="235.0" cy="305.0" r="2.7"/>
<circle cx="232.8" cy="325.0" r="2.7"/>
<circle cx="227.3" cy="332.2" r="2.7"/>
<circle cx="228.7" cy="312.7" r="2.7"/>
<circle cx="211.6" cy="317.3" r="2.7"/>
<circle cx="216.6" cy="330.4" r="2.7"/>
<circle cx="211.3" cy="327.4" r="2.7"/>
<circle cx="215.9" cy="306.7" r="2.7"/>
<circle cx="206.0" cy="301.5" r="2.7"/>
<circle cx="223.8" cy="331.0" r="2.7"/>
<circle cx="222.0" cy="301.8" r="2.7"/>
<circle cx="218.6" cy="328.0" r="2.7"/>
<circle cx="216.6" cy="321.4" r="2.7"/>
<circle cx="210.0" cy="329.1" r="2.7"/>
<circle cx="224.2" cy="287.8" r="2.7"/>
<circle cx="204.7" cy="312.0" r="2.7"/>
<circle cx="206.4" cy="325.9" r="2.7"/>
<circle cx="229.0" cy="323.5" r="2.7"/>
<circle cx="242.1" cy="314.8" r="2.7"/>
<circle cx="220.4" cy="325.2" r="2.7"/>
<circle cx="205.9" cy="315.4" r="2.7"/>
<circle cx="205.7" cy="331.0" r="2.7"/>
<circle cx="235.3" cy="328.4" r="2.7"/>
<circle cx="220.0" cy="328.8" r="2.7"/>
<circle cx="202.7" cy="349.5" r="2.7"/>
<circle cx="236.9" cy="327.3" r="2.7"/>
<circle cx="217.4" cy="318.4" r="2.7"/>
<circle cx="218.0" cy="341.2" r="2.7"/>
<circle cx="218.2" cy="320.5" r="2.7"/>
<circle cx="236.3" cy="287.0" r="2.7"/>
<circle cx="230.5" cy="301.3" r="2.7"/>
<circle cx="228.1" cy="318.0" r="2.7"/>
<circle cx="211.8" cy="293.6" r="2.7"/>
<circle cx="218.3" cy="324.9" r="2.7"/>
<circle cx="205.2" cy="284.2" r="2.7"/>
<circle cx="229.3" cy="308.4" r="2.7"/>
<circle cx="206.7" cy="287.5" r="2.7"/>
<circle cx="242.3" cy="317.5" r="2.7"/>
<circle cx="216.0" cy="319.3" r="2.7"/>
<circle cx="206.7" cy="330.2" r="2.7"/>
<circle cx="206.5" cy="312.2" r="2.7"/>
<circle cx="212.3" cy="309.8" r="2.7"/>
<circle cx="227.4" cy="337.3" r="2.7"/>
<circle cx="232.0" cy="328.2" r="2.7"/>
<circle cx="239.0" cy="331.8" r="2.7"/>
<circle cx="236.5" cy="314.5" r="2.7"/>
<circle cx="230.2" cy="319.6" r="2.7"/>
<circle cx="227.0" cy="308.4" r="2.7"/>
<circle cx="223.1" cy="320.0" r="2.7"/>
<circle cx="229.3" cy="324.8" r="2.7"/>
<circle cx="213.7" cy="307.1" r="2.7"/>
<circle cx="236.2" cy="336.7" r="2.7"/>
<circle cx="227.5" cy="301.8" r="2.7"/>
<circle cx="224.1" cy="343.4" r="2.7"/>
<circle cx="206.6" cy="321.7" r="2.7"/>
<circle cx="220.1" cy="348.6" r="2.7"/>
<circle cx="210.5" cy="296.3" r="2.7"/>
<circle cx="222.6" cy="304.4" r="2.7"/>
<circle cx="218.8" cy="296.8" r="2.7"/>
<circle cx="221.8" cy="304.4" r="2.7"/>
<circle cx="211.2" cy="298.1" r="2.7"/>
<circle cx="210.9" cy="316.1" r="2.7"/>
<circle cx="221.0" cy="315.5" r="2.7"/>
<circle cx="205.4" cy="317.6" r="2.7"/>
<circle cx="201.3" cy="327.1" r="2.7"/>
<circle cx="240.1" cy="334.3" r="2.7"/>
<circle cx="206.0" cy="323.8" r="2.7"/>
<circle cx="223.4" cy="304.3" r="2.7"/>
<circle cx="237.9" cy="324.0" r="2.7"/>
<circle cx="233.0" cy="311.8" r="2.7"/>
<circle cx="238.9" cy="335.8" r="2.7"/>
<circle cx="234.2" cy="293.6" r="2.7"/>
<circle cx="226.2" cy="348.6" r="2.7"/>
<circle cx="214.3" cy="324.2" r="2.7"/>
<circle cx="202.8" cy="321.5" r="2.7"/>
<circle cx="225.2" cy="288.0" r="2.7"/>
<circle cx="204.0" cy="303.4" r="2.7"/>
<circle cx="207.0" cy="323.8" r="2.7"/>
<circle cx="208.6" cy="320.1" r="2.7"/>
<circle cx="411.3" cy="341.9" r="2.7"/>
<circle cx="411.3" cy="303.6" r="2.7"/>
<circle cx="413.0" cy="327.1" r="2.7"/>
<circle cx="408.8" cy="299.6" r="2.7"/>
<circle cx="408.4" cy="324.1" r="2.7"/>
<circle cx="401.9" cy="305.0" r="2.7"/>
<circle cx="405.2" cy="336.8" r="2.7"/>
<circle cx="406.8" cy="348.0" r="2.7"/>
<circle cx="406.3" cy="325.9" r="2.7"/>
<circle cx="411.3" cy="340.8" r="2.7"/>
<circle cx="405.6" cy="298.7" r="2.7"/>
<circle cx="401.3" cy="317.7" r="2.7"/>
<circle cx="403.8" cy="316.7" r="2.7"/>
<circle cx="404.5" cy="353.9" r="2.7"/>
<circle cx="402.2" cy="319.5" r="2.7"/>
<circle cx="406.2" cy="333.7" r="2.7"/>
<circle cx="403.0" cy="319.7" r="2.7"/>
<circle cx="406.8" cy="324.6" r="2.7"/>
<circle cx="403.4" cy="333.8" r="2.7"/>
<circle cx="412.7" cy="306.5" r="2.7"/>
<circle cx="408.2" cy="321.5" r="2.7"/>
<circle cx="404.3" cy="341.2" r="2.7"/>
<circle cx="413.2" cy="300.4" r="2.7"/>
<circle cx="406.3" cy="326.9" r="2.7"/>
<circle cx="402.2" cy="300.7" r="2.7"/>
<circle cx="410.6" cy="349.2" r="2.7"/>
<circle cx="403.8" cy="318.8" r="2.7"/>
<circle cx="412.7" cy="322.2" r="2.7"/>
<circle cx="401.9" cy="320.4" r="2.7"/>
<circle cx="405.9" cy="295.8" r="2.7"/>
<circle cx="407.2" cy="343.0" r="2.7"/>
<circle cx="412.5" cy="336.1" r="2.7"/>
<circle cx="401.6" cy="306.3" r="2.7"/>
<circle cx="403.0" cy="333.1" r="2.7"/>
<circle cx="403.9" cy="312.5" r="2.7"/>
<circle cx="406.1" cy="322.6" r="2.7"/>
<circle cx="402.6" cy="324.2" r="2.7"/>
<circle cx="407.3" cy="328.6" r="2.7"/>
<circle cx="403.5" cy="348.8" r="2.7"/>
<circle cx="410.2" cy="331.7" r="2.7"/>
<circle cx="412.5" cy="354.4" r="2.7"/>
<circle cx="404.7" cy="340.7" r="2.7"/>
<circle cx="401.3" cy="346.6" r="2.7"/>
<circle cx="408.5" cy="354.3" r="2.7"/>
<circle cx="411.3" cy="335.0" r="2.7"/>
<circle cx="407.4" cy="328.4" r="2.7"/>
<circle cx="411.7" cy="296.2" r="2.7"/>
<circle cx="403.0" cy="317.0" r="2.7"/>
<circle cx="412.8" cy="323.0" r="2.7"/>
<circle cx="409.9" cy="322.2" r="2.7"/>
<circle cx="407.2" cy="341.0" r="2.7"/>
<circle cx="402.1" cy="331.7" r="2.7"/>
<circle cx="412.6" cy="307.9" r="2.7"/>
<circle cx="407.7" cy="312.3" r="2.7"/>
<circle cx="460.4" cy="343.2" r="2.7"/>
<circle cx="469.8" cy="331.5" r="2.7"/>
<circle cx="434.1" cy="341.6" r="2.7"/>
<circle cx="433.5" cy="329.8" r="2.7"/>
<circle cx="443.0" cy="315.7" r="2.7"/>
<circle cx="451.9" cy="343.8" r="2.7"/>
<circle cx="430.1" cy="313.7" r="2.7"/>
<circle cx="462.8" cy="312.4" r="2.7"/>
<circle cx="464.7" cy="305.6" r="2.7"/>
<circle cx="434.4" cy="328.6" r="2.7"/>
<circle cx="450.3" cy="332.6" r="2.7"/>
<circle cx="442.3" cy="338.9" r="2.7"/>
<circle cx="467.4" cy="326.5" r="2.7"/>
<circle cx="450.7" cy="331.3" r="2.7"/>
<circle cx="445.6" cy="311.5" r="2.7"/>
<circle cx="441.1" cy="301.5" r="2.7"/>
<circle cx="442.2" cy="340.2" r="2.7"/>
<circle cx="437.2" cy="340.8" r="2.7"/>
<circle cx="436.8" cy="296.0" r="2.7"/>
<circle cx="456.4" cy="303.6" r="2.7"/>
<circle cx="433.9" cy="338.1" r="2.7"/>
<circle cx="437.7" cy="333.5" r="2.7"/>
<circle cx="443.5" cy="315.0" r="2.7"/>
<circle cx="435.7" cy="332.5" r="2.7"/>
<circle cx="451.6" cy="319.4" r="2.7"/>
<circle cx="442.6" cy="304.7" r="2.7"/>
<circle cx="442.8" cy="347.0" r="2.7"/>
<circle cx="438.0" cy="330.5" r="2.7"/>
<circle cx="432.9" cy="326.8" r="2.7"/>
<circle cx="439.1" cy="337.9" r="2.7"/>
<circle cx="453.7" cy="327.9" r="2.7"/>
<circle cx="470.0" cy="330.9" r="2.7"/>
<circle cx="437.7" cy="311.2" r="2.7"/>
<circle cx="432.3" cy="300.3" r="2.7"/>
<circle cx="456.6" cy="328.4" r="2.7"/>
<circle cx="457.1" cy="321.7" r="2.7"/>
<circle cx="456.5" cy="307.4" r="2.7"/>
<circle cx="445.3" cy="339.9" r="2.7"/>
<circle cx="436.9" cy="323.4" r="2.7"/>
<circle cx="446.1" cy="330.3" r="2.7"/>
<circle cx="465.3" cy="323.8" r="2.7"/>
<circle cx="465.5" cy="313.1" r="2.7"/>
<circle cx="459.1" cy="313.7" r="2.7"/>
<circle cx="451.4" cy="311.4" r="2.7"/>
<circle cx="433.2" cy="344.6" r="2.7"/>
<circle cx="455.6" cy="328.3" r="2.7"/>
<circle cx="444.2" cy="333.4" r="2.7"/>
<circle cx="472.3" cy="303.1" r="2.7"/>
<circle cx="451.8" cy="323.3" r="2.7"/>
<circle cx="440.3" cy="333.9" r="2.7"/>
<circle cx="433.3" cy="315.5" r="2.7"/>
<circle cx="455.8" cy="301.9" r="2.7"/>
<circle cx="430.1" cy="324.6" r="2.7"/>
<circle cx="458.0" cy="301.3" r="2.7"/>
<circle cx="452.9" cy="326.0" r="2.7"/>
<circle cx="462.2" cy="306.6" r="2.7"/>
<circle cx="431.1" cy="357.4" r="2.7"/>
<circle cx="448.3" cy="328.4" r="2.7"/>
<circle cx="455.5" cy="322.0" r="2.7"/>
<circle cx="446.4" cy="320.6" r="2.7"/>
<circle cx="468.0" cy="312.6" r="2.7"/>
<circle cx="471.8" cy="321.1" r="2.7"/>
<circle cx="441.6" cy="331.0" r="2.7"/>
<circle cx="445.0" cy="316.6" r="2.7"/>
<circle cx="439.4" cy="344.9" r="2.7"/>
<circle cx="436.6" cy="318.5" r="2.7"/>
<circle cx="453.3" cy="311.2" r="2.7"/>
<circle cx="436.9" cy="332.7" r="2.7"/>
<circle cx="456.6" cy="318.9" r="2.7"/>
<circle cx="466.2" cy="332.2" r="2.7"/>
<circle cx="438.0" cy="306.5" r="2.7"/>
<circle cx="450.5" cy="320.1" r="2.7"/>
<circle cx="460.4" cy="336.3" r="2.7"/>
<circle cx="436.1" cy="309.0" r="2.7"/>
<circle cx="469.6" cy="327.2" r="2.7"/>
<circle cx="456.8" cy="327.0" r="2.7"/>
<circle cx="499.0" cy="341.6" r="2.7"/>
<circle cx="521.0" cy="326.5" r="2.7"/>
<circle cx="512.8" cy="328.4" r="2.7"/>
<circle cx="520.7" cy="335.0" r="2.7"/>
<circle cx="524.7" cy="300.5" r="2.7"/>
<circle cx="514.2" cy="324.0" r="2.7"/>
<circle cx="491.9" cy="326.4" r="2.7"/>
<circle cx="496.9" cy="317.3" r="2.7"/>
<circle cx="505.5" cy="317.8" r="2.7"/>
<circle cx="511.7" cy="348.3" r="2.7"/>
<circle cx="512.9" cy="299.8" r="2.7"/>
<circle cx="488.6" cy="314.9" r="2.7"/>
<circle cx="511.1" cy="336.3" r="2.7"/>
<circle cx="489.7" cy="308.2" r="2.7"/>
<circle cx="527.8" cy="320.1" r="2.7"/>
<circle cx="500.2" cy="338.7" r="2.7"/>
<circle cx="516.2" cy="319.7" r="2.7"/>
<circle cx="513.9" cy="308.5" r="2.7"/>
<circle cx="515.9" cy="332.4" r="2.7"/>
<circle cx="515.1" cy="307.8" r="2.7"/>
<circle cx="494.9" cy="337.9" r="2.7"/>
<circle cx="499.4" cy="328.3" r="2.7"/>
<circle cx="497.0" cy="318.5" r="2.7"/>
<circle cx="501.8" cy="317.7" r="2.7"/>
<circle cx="493.2" cy="325.0" r="2.7"/>
<circle cx="491.0" cy="302.5" r="2.7"/>
<circle cx="509.3" cy="337.0" r="2.7"/>
<circle cx="507.5" cy="327.7" r="2.7"/>
<circle cx="505.0" cy="315.2" r="2.7"/>
<circle cx="521.4" cy="325.8" r="2.7"/>
<circle cx="513.0" cy="353.3" r="2.7"/>
<circle cx="511.7" cy="311.4" r="2.7"/>
<circle cx="515.3" cy="331.5" r="2.7"/>
<circle cx="506.3" cy="334.5" r="2.7"/>
<circle cx="490.4" cy="297.8" r="2.7"/>
<circle cx="521.5" cy="348.6" r="2.7"/>
<circle cx="505.9" cy="332.9" r="2.7"/>
<circle cx="491.8" cy="330.7" r="2.7"/>
<circle cx="517.9" cy="313.3" r="2.7"/>
<circle cx="494.2" cy="320.2" r="2.7"/>
<circle cx="496.7" cy="332.7" r="2.7"/>
<circle cx="510.8" cy="336.0" r="2.7"/>
<circle cx="490.3" cy="332.7" r="2.7"/>
<circle cx="501.9" cy="329.3" r="2.7"/>
<circle cx="496.9" cy="315.1" r="2.7"/>
<circle cx="518.5" cy="325.2" r="2.7"/>
<circle cx="489.9" cy="302.1" r="2.7"/>
<circle cx="528.2" cy="319.2" r="2.7"/>
<circle cx="489.5" cy="325.8" r="2.7"/>
<circle cx="512.2" cy="324.8" r="2.7"/>
<circle cx="513.3" cy="327.7" r="2.7"/>
<circle cx="511.5" cy="302.6" r="2.7"/>
<circle cx="494.3" cy="341.9" r="2.7"/>
<circle cx="514.5" cy="320.5" r="2.7"/>
<circle cx="521.8" cy="297.5" r="2.7"/>
<circle cx="519.8" cy="327.4" r="2.7"/>
<circle cx="505.5" cy="321.6" r="2.7"/>
<circle cx="504.4" cy="348.6" r="2.7"/>
<circle cx="503.9" cy="324.9" r="2.7"/>
<circle cx="516.5" cy="332.9" r="2.7"/>
<circle cx="497.6" cy="331.1" r="2.7"/>
<circle cx="502.1" cy="333.8" r="2.7"/>
<circle cx="495.9" cy="300.8" r="2.7"/>
<circle cx="490.9" cy="309.3" r="2.7"/>
<circle cx="495.4" cy="306.0" r="2.7"/>
<circle cx="497.8" cy="356.2" r="2.7"/>
<circle cx="501.5" cy="327.7" r="2.7"/>
<circle cx="491.4" cy="330.6" r="2.7"/>
<circle cx="510.8" cy="315.2" r="2.7"/>
<circle cx="507.9" cy="321.3" r="2.7"/>
<circle cx="489.2" cy="328.7" r="2.7"/>
<circle cx="513.0" cy="313.1" r="2.7"/>
<circle cx="490.5" cy="309.3" r="2.7"/>
<circle cx="521.5" cy="315.2" r="2.7"/>
<circle cx="508.7" cy="298.0" r="2.7"/>
<circle cx="493.0" cy="337.1" r="2.7"/>
<circle cx="514.7" cy="323.8" r="2.7"/>
<circle cx="504.2" cy="303.8" r="2.7"/>
<circle cx="496.1" cy="316.1" r="2.7"/>
<circle cx="501.4" cy="321.5" r="2.7"/>
<circle cx="509.4" cy="318.3" r="2.7"/>
<circle cx="513.9" cy="327.6" r="2.7"/>
<circle cx="519.9" cy="336.4" r="2.7"/>
<circle cx="517.4" cy="322.5" r="2.7"/>
<circle cx="525.6" cy="306.9" r="2.7"/>
<circle cx="496.1" cy="321.3" r="2.7"/>
<circle cx="556.7" cy="323.1" r="2.7"/>
<circle cx="561.2" cy="305.1" r="2.7"/>
<circle cx="568.1" cy="295.9" r="2.7"/>
<circle cx="569.5" cy="343.2" r="2.7"/>
<circle cx="567.2" cy="315.8" r="2.7"/>
<circle cx="562.5" cy="323.8" r="2.7"/>
<circle cx="571.9" cy="349.8" r="2.7"/>
<circle cx="558.5" cy="314.2" r="2.7"/>
<circle cx="562.9" cy="321.9" r="2.7"/>
<circle cx="560.7" cy="326.6" r="2.7"/>
<circle cx="564.2" cy="309.9" r="2.7"/>
<circle cx="561.3" cy="334.8" r="2.7"/>
<circle cx="560.2" cy="332.2" r="2.7"/>
<circle cx="556.0" cy="292.1" r="2.7"/>
<circle cx="556.4" cy="311.7" r="2.7"/>
<circle cx="572.3" cy="328.3" r="2.7"/>
<circle cx="556.4" cy="285.5" r="2.7"/>
<circle cx="558.3" cy="307.1" r="2.7"/>
<circle cx="562.8" cy="325.2" r="2.7"/>
<circle cx="568.2" cy="299.3" r="2.7"/>
<circle cx="565.5" cy="307.8" r="2.7"/>
<circle cx="565.3" cy="309.7" r="2.7"/>
<circle cx="561.5" cy="327.7" r="2.7"/>
<circle cx="561.4" cy="320.9" r="2.7"/>
<circle cx="569.5" cy="310.9" r="2.7"/>
<circle cx="571.0" cy="327.5" r="2.7"/>
<circle cx="569.2" cy="347.0" r="2.7"/>
<circle cx="563.0" cy="329.6" r="2.7"/>
<circle cx="567.2" cy="309.2" r="2.7"/>
<circle cx="557.2" cy="318.8" r="2.7"/>
<circle cx="561.1" cy="319.3" r="2.7"/>
<circle cx="569.2" cy="332.0" r="2.7"/>
<circle cx="564.8" cy="308.1" r="2.7"/>
<circle cx="564.1" cy="332.4" r="2.7"/>
<circle cx="572.2" cy="344.4" r="2.7"/>
<circle cx="564.4" cy="343.3" r="2.7"/>
<circle cx="568.1" cy="321.2" r="2.7"/>
<circle cx="563.5" cy="320.9" r="2.7"/>
<circle cx="564.7" cy="353.2" r="2.7"/>
<circle cx="558.4" cy="309.0" r="2.7"/>
<circle cx="562.8" cy="359.5" r="2.7"/>
<circle cx="566.8" cy="314.6" r="2.7"/>
<circle cx="562.2" cy="316.3" r="2.7"/>
<circle cx="558.5" cy="306.1" r="2.7"/>
<circle cx="560.1" cy="317.4" r="2.7"/>
<circle cx="563.3" cy="320.2" r="2.7"/>
<circle cx="571.4" cy="328.3" r="2.7"/>
<circle cx="571.4" cy="324.1" r="2.7"/>
<circle cx="571.7" cy="327.2" r="2.7"/>
<circle cx="559.0" cy="317.4" r="2.7"/>
<circle cx="559.5" cy="315.1" r="2.7"/>
<circle cx="560.3" cy="339.7" r="2.7"/>
<circle cx="557.6" cy="295.2" r="2.7"/>
<circle cx="557.8" cy="290.1" r="2.7"/>
<circle cx="561.0" cy="319.8" r="2.7"/>
<circle cx="570.0" cy="339.0" r="2.7"/>
<circle cx="566.8" cy="330.8" r="2.7"/>
<circle cx="569.2" cy="317.7" r="2.7"/>
<circle cx="581.3" cy="320.6" r="2.7"/>
<circle cx="586.7" cy="364.3" r="2.7"/>
<circle cx="580.1" cy="318.8" r="2.7"/>
<circle cx="576.8" cy="327.3" r="2.7"/>
<circle cx="576.0" cy="327.0" r="2.7"/>
<circle cx="573.5" cy="328.2" r="2.7"/>
<circle cx="574.1" cy="320.6" r="2.7"/>
<circle cx="573.4" cy="342.3" r="2.7"/>
<circle cx="577.3" cy="322.7" r="2.7"/>
<circle cx="576.6" cy="335.3" r="2.7"/>
<circle cx="574.0" cy="338.1" r="2.7"/>
<circle cx="580.4" cy="322.1" r="2.7"/>
<circle cx="575.4" cy="310.9" r="2.7"/>
<circle cx="585.3" cy="329.1" r="2.7"/>
<circle cx="580.0" cy="314.6" r="2.7"/>
<circle cx="585.6" cy="350.2" r="2.7"/>
<circle cx="552.8" cy="238.7" r="2.7"/>
<circle cx="552.9" cy="244.5" r="2.7"/>
<circle cx="553.2" cy="247.4" r="2.7"/>
<circle cx="553.0" cy="249.7" r="2.7"/>
<circle cx="553.4" cy="253.2" r="2.7"/>
<circle cx="552.8" cy="255.0" r="2.7"/>
<circle cx="553.1" cy="260.6" r="2.7"/>
<circle cx="553.2" cy="262.7" r="2.7"/>
<circle cx="553.8" cy="266.6" r="2.7"/>
<circle cx="553.7" cy="267.6" r="2.7"/>
<circle cx="553.6" cy="270.2" r="2.7"/>
<circle cx="554.5" cy="273.0" r="2.7"/>
<circle cx="553.9" cy="277.9" r="2.7"/>
<circle cx="554.7" cy="279.6" r="2.7"/>
<circle cx="554.7" cy="284.3" r="2.7"/>
<circle cx="554.7" cy="286.3" r="2.7"/>
<circle cx="555.1" cy="289.7" r="2.7"/>
<circle cx="555.7" cy="290.6" r="2.7"/>
<circle cx="556.4" cy="293.6" r="2.7"/>
<circle cx="556.1" cy="295.7" r="2.7"/>
<circle cx="557.2" cy="299.4" r="2.7"/>
<circle cx="557.4" cy="302.4" r="2.7"/>
<circle cx="556.5" cy="304.9" r="2.7"/>
<circle cx="555.7" cy="307.3" r="2.7"/>
<circle cx="95.4" cy="281.0" r="2.7"/>
<circle cx="98.6" cy="292.0" r="2.7"/>
<circle cx="103.4" cy="283.0" r="2.7"/>
<circle cx="106.0" cy="277.0" r="2.7"/>
<circle cx="107.0" cy="284.0" r="2.7"/>
<circle cx="113.6" cy="279.0" r="2.7"/>
<circle cx="117.0" cy="282.0" r="2.7"/>
<circle cx="122.6" cy="281.0" r="2.7"/>
<circle cx="122.2" cy="284.0" r="2.7"/>
<circle cx="121.5" cy="280.0" r="2.7"/>
<circle cx="127.0" cy="297.0" r="2.7"/>
<circle cx="126.6" cy="303.0" r="2.7"/>
<circle cx="91.4" cy="350.4" r="2.7"/>
<circle cx="91.0" cy="340.0" r="2.7"/>
<circle cx="99.0" cy="350.0" r="2.7"/>
<circle cx="105.0" cy="346.0" r="2.7"/>
<circle cx="109.0" cy="343.0" r="2.7"/>
<circle cx="115.0" cy="348.0" r="2.7"/>
<circle cx="118.0" cy="358.0" r="2.7"/>
<circle cx="123.4" cy="370.0" r="2.7"/>
<circle cx="122.0" cy="361.4" r="2.7"/>
<circle cx="93.0" cy="336.0" r="2.7"/>
<circle cx="148.6" cy="298.0" r="2.7"/>
<circle cx="154.0" cy="297.0" r="2.7"/>
<circle cx="159.0" cy="274.0" r="2.7"/>
<circle cx="160.6" cy="289.0" r="2.7"/>
<circle cx="170.6" cy="275.0" r="2.7"/>
<circle cx="174.0" cy="284.0" r="2.7"/>
<circle cx="176.0" cy="295.0" r="2.7"/>
<circle cx="181.4" cy="286.0" r="2.7"/>
<circle cx="182.4" cy="290.0" r="2.7"/>
<circle cx="184.0" cy="297.0" r="2.7"/>
<circle cx="149.0" cy="320.0" r="2.7"/>
<circle cx="155.0" cy="347.0" r="2.7"/>
<circle cx="155.4" cy="340.0" r="2.7"/>
<circle cx="160.6" cy="350.0" r="2.7"/>
<circle cx="160.2" cy="343.0" r="2.7"/>
<circle cx="169.0" cy="345.0" r="2.7"/>
<circle cx="173.0" cy="368.0" r="2.7"/>
<circle cx="175.4" cy="372.0" r="2.7"/>
<circle cx="182.0" cy="344.0" r="2.7"/>
<circle cx="184.0" cy="324.0" r="2.7"/>
<circle cx="202.4" cy="286.0" r="2.7"/>
<circle cx="208.4" cy="274.0" r="2.7"/>
<circle cx="211.0" cy="283.0" r="2.7"/>
<circle cx="219.0" cy="280.0" r="2.7"/>
<circle cx="228.0" cy="281.0" r="2.7"/>
<circle cx="233.0" cy="270.0" r="2.7"/>
<circle cx="239.0" cy="269.4" r="2.7"/>
<circle cx="242.0" cy="296.0" r="2.7"/>
<circle cx="241.6" cy="307.0" r="2.7"/>
<circle cx="239.6" cy="289.0" r="2.7"/>
<circle cx="203.0" cy="332.0" r="2.7"/>
<circle cx="206.0" cy="349.0" r="2.7"/>
<circle cx="215.0" cy="360.0" r="2.7"/>
<circle cx="214.6" cy="346.0" r="2.7"/>
<circle cx="220.0" cy="351.0" r="2.7"/>
<circle cx="225.0" cy="352.0" r="2.7"/>
<circle cx="225.4" cy="342.0" r="2.7"/>
<circle cx="233.0" cy="355.0" r="2.7"/>
<circle cx="237.0" cy="350.0" r="2.7"/>
<circle cx="237.4" cy="343.0" r="2.7"/>
<circle cx="240.4" cy="337.0" r="2.7"/>
<circle cx="238.0" cy="341.0" r="2.7"/>
<circle cx="260.6" cy="273.2" r="2.7"/>
<circle cx="260.4" cy="281.2" r="2.7"/>
<circle cx="265.7" cy="290.4" r="2.7"/>
<circle cx="265.7" cy="296.2" r="2.7"/>
<circle cx="265.3" cy="311.5" r="2.7"/>
<circle cx="260.2" cy="311.0" r="2.7"/>
<circle cx="266.0" cy="311.0" r="2.7"/>
<circle cx="260.5" cy="320.6" r="2.7"/>
<circle cx="264.0" cy="322.6" r="2.7"/>
<circle cx="265.5" cy="325.0" r="2.7"/>
<circle cx="259.8" cy="331.3" r="2.7"/>
<circle cx="262.6" cy="337.6" r="2.7"/>
<circle cx="264.1" cy="333.0" r="2.7"/>
<circle cx="260.8" cy="318.0" r="2.7"/>
<circle cx="402.4" cy="268.0" r="2.7"/>
<circle cx="402.0" cy="276.0" r="2.7"/>
<circle cx="405.0" cy="285.0" r="2.7"/>
<circle cx="413.0" cy="280.6" r="2.7"/>
<circle cx="411.0" cy="284.0" r="2.7"/>
<circle cx="408.0" cy="286.0" r="2.7"/>
<circle cx="407.8" cy="385.3" r="2.7"/>
<circle cx="411.0" cy="358.0" r="2.7"/>
<circle cx="411.4" cy="362.0" r="2.7"/>
<circle cx="414.0" cy="349.4" r="2.7"/>
<circle cx="414.2" cy="337.0" r="2.7"/>
<circle cx="401.0" cy="330.0" r="2.7"/>
<circle cx="401.4" cy="343.0" r="2.7"/>
<circle cx="431.0" cy="288.6" r="2.7"/>
<circle cx="435.0" cy="279.4" r="2.7"/>
<circle cx="432.0" cy="279.4" r="2.7"/>
<circle cx="444.4" cy="290.0" r="2.7"/>
<circle cx="447.0" cy="283.6" r="2.7"/>
<circle cx="453.6" cy="292.0" r="2.7"/>
<circle cx="461.6" cy="287.4" r="2.7"/>
<circle cx="467.0" cy="294.0" r="2.7"/>
<circle cx="471.6" cy="301.4" r="2.7"/>
<circle cx="465.6" cy="296.0" r="2.7"/>
<circle cx="430.4" cy="308.0" r="2.7"/>
<circle cx="433.6" cy="345.0" r="2.7"/>
<circle cx="433.8" cy="352.0" r="2.7"/>
<circle cx="440.4" cy="373.0" r="2.7"/>
<circle cx="444.4" cy="350.0" r="2.7"/>
<circle cx="452.0" cy="373.6" r="2.7"/>
<circle cx="454.0" cy="386.2" r="2.7"/>
<circle cx="463.0" cy="368.6" r="2.7"/>
<circle cx="468.1" cy="361.6" r="2.7"/>
<circle cx="468.4" cy="352.0" r="2.7"/>
<circle cx="467.6" cy="346.0" r="2.7"/>
<circle cx="470.0" cy="332.6" r="2.7"/>
<circle cx="492.0" cy="288.0" r="2.7"/>
<circle cx="497.6" cy="286.0" r="2.7"/>
<circle cx="501.6" cy="292.0" r="2.7"/>
<circle cx="506.0" cy="285.0" r="2.7"/>
<circle cx="508.4" cy="284.0" r="2.7"/>
<circle cx="523.0" cy="276.0" r="2.7"/>
<circle cx="522.4" cy="290.6" r="2.7"/>
<circle cx="529.0" cy="306.0" r="2.7"/>
<circle cx="505.6" cy="290.6" r="2.7"/>
<circle cx="488.4" cy="337.6" r="2.7"/>
<circle cx="494.4" cy="348.0" r="2.7"/>
<circle cx="500.0" cy="350.0" r="2.7"/>
<circle cx="504.0" cy="351.0" r="2.7"/>
<circle cx="509.6" cy="356.4" r="2.7"/>
<circle cx="509.2" cy="352.0" r="2.7"/>
<circle cx="515.0" cy="345.0" r="2.7"/>
<circle cx="517.0" cy="341.0" r="2.7"/>
<circle cx="523.6" cy="332.6" r="2.7"/>
<circle cx="528.0" cy="322.6" r="2.7"/>
<circle cx="545.6" cy="276.0" r="2.7"/>
<circle cx="545.8" cy="280.6" r="2.7"/>
<circle cx="563.6" cy="284.0" r="2.7"/>
<circle cx="569.4" cy="289.0" r="2.7"/>
<circle cx="572.0" cy="291.0" r="2.7"/>
<circle cx="578.0" cy="284.0" r="2.7"/>
<circle cx="584.0" cy="293.0" r="2.7"/>
<circle cx="571.0" cy="288.6" r="2.7"/>
<circle cx="574.0" cy="291.0" r="2.7"/>
<circle cx="556.4" cy="335.0" r="2.7"/>
<circle cx="566.4" cy="353.0" r="2.7"/>
<circle cx="566.6" cy="360.0" r="2.7"/>
<circle cx="566.2" cy="369.0" r="2.7"/>
<circle cx="566.8" cy="356.0" r="2.7"/>
<circle cx="567.0" cy="352.0" r="2.7"/>
<circle cx="569.0" cy="366.0" r="2.7"/>
<circle cx="575.0" cy="378.4" r="2.7"/>
<circle cx="582.4" cy="373.4" r="2.7"/>
<circle cx="582.6" cy="353.4" r="2.7"/>
<circle cx="582.0" cy="350.0" r="2.7"/>
<circle cx="549.5" cy="132.9" r="2.7"/>
<circle cx="549.1" cy="139.8" r="2.7"/>
<circle cx="549.8" cy="149.1" r="2.7"/>
<circle cx="548.3" cy="164.9" r="2.7"/>
<circle cx="549.0" cy="158.0" r="2.7"/>
<circle cx="550.9" cy="171.4" r="2.7"/>
<circle cx="551.0" cy="177.7" r="2.7"/>
<circle cx="548.0" cy="201.3" r="2.7"/>
<circle cx="545.7" cy="204.3" r="2.7"/>
<circle cx="551.5" cy="206.7" r="2.7"/>
<circle cx="546.2" cy="227.7" r="2.7"/>
<circle cx="552.4" cy="241.3" r="2.7"/>
</g>
<path d="M87.70 313.00 L89.70 313.00 L91.70 313.00 L93.70 313.00 L95.70 313.00 L97.70 313.00 L99.70 313.00 L101.70 313.00 L103.70 313.00 L105.70 313.00 L107.70 313.00 L109.70 313.00 L111.70 313.00 L113.70 313.00 L115.70 313.00 L117.70 313.00 L119.70 313.00 L121.70 313.00 L123.70 313.00 L125.70 313.00 L127.70 313.00 L129.70 313.00 L131.70 313.00 L133.70 313.00 L135.70 313.00 L137.70 313.00 L139.70 313.00 L141.70 313.00 L143.70 313.00 L145.70 313.00 L147.70 313.00 L149.70 313.00 L151.70 313.00 L153.70 313.00 L155.70 313.00 L157.70 313.00 L159.70 313.00 L161.70 313.00 L163.70 313.00 L165.70 313.00 L167.70 313.00 L169.70 313.00 L171.70 313.00 L173.70 313.00 L175.70 313.00 L177.70 313.00 L179.70 313.00 L181.70 313.00 L183.70 313.00 L185.70 313.00 L187.70 313.00 L189.70 313.00 L191.70 313.00 L193.70 313.00 L195.70 313.00 L197.70 313.00 L199.70 313.00 L201.70 313.00 L203.70 313.00 L205.70 313.00 L207.70 313.00 L209.70 313.00 L211.70 313.00 L213.70 313.00 L215.70 313.00 L217.70 313.00 L219.70 313.00 L221.70 313.00 L223.70 313.00 L225.70 313.00 L227.70 313.00 L229.70 313.00 L231.70 313.00 L233.70 313.00 L235.70 313.00 L237.70 313.00 L239.70 313.00 L241.70 313.00 L243.70 313.00 L245.70 313.00 L247.70 313.00 L249.70 313.00 L251.70 313.00 L253.70 313.00 L255.70 313.00 L257.70 313.00 L259.70 313.00 L261.70 313.00 L263.70 313.00 L265.70 313.00 L267.70 313.00 L269.70 313.00 L271.70 313.00 L273.70 313.00 L275.70 313.00 L277.70 313.00 L279.70 313.00 L281.70 313.00 L283.70 313.00 L285.70 313.00 L287.70 313.00 L289.70 313.00 L291.70 313.00 L293.70 313.00 L295.70 313.00 L297.70 313.00 L299.70 313.00 L301.70 313.00 L303.70 313.00 L305.70 313.00 L307.70 313.00 L309.70 313.00 L311.70 313.00 L313.70 313.00 L315.70 313.00 L317.70 313.00 L319.70 313.00 L321.70 313.00 L323.70 313.00 L325.70 313.00 L327.70 313.00 L329.70 313.00 L331.70 313.00 L333.70 313.00 L335.70 313.00 L337.70 313.00 L339.70 313.00 L341.70 313.00 L343.70 313.00 L345.70 313.00 L347.70 313.00 L349.70 313.00 L351.70 313.00 L353.70 313.00 L355.70 313.00 L357.70 313.00 L359.70 313.00 L361.70 313.00 L363.70 313.00 L365.70 313.00 L367.70 313.00 L369.70 313.00 L371.70 313.00 L373.70 313.00 L375.70 313.00 L377.70 313.00 L379.70 313.00 L381.70 313.00 L383.70 313.00 L385.70 313.00 L387.70 313.00 L389.70 313.00 L391.70 313.00 L393.70 313.00 L395.70 313.00 L397.70 313.00 L399.70 313.00 L401.70 313.00 L403.70 313.00 L405.70 313.00 L407.70 313.00 L409.70 313.00 L411.70 313.00 L413.70 313.00 L415.70 313.00 L417.70 313.00 L419.70 313.00 L421.70 313.00 L423.70 313.00 L425.70 313.00 L427.70 313.00 L429.70 313.00 L431.70 313.00 L433.70 313.00 L435.70 313.00 L437.70 313.00 L439.70 313.00 L441.70 313.00 L443.70 313.00 L445.70 313.00 L447.70 313.00 L449.70 313.00 L451.70 313.00 L453.70 313.00 L455.70 313.00 L457.70 313.00 L459.70 313.00 L461.70 313.00 L463.70 313.00 L465.70 313.00 L467.70 313.00 L469.70 313.00 L471.70 313.00 L473.70 313.00 L475.70 313.00 L477.70 313.00 L479.70 313.00 L481.70 313.00 L483.70 312.99 L485.70 312.99 L487.70 312.99 L489.70 312.99 L491.70 312.99 L493.70 312.99 L495.70 312.99 L497.70 312.99 L499.70 312.98 L501.70 312.98 L503.70 312.98 L505.70 312.98 L507.70 312.97 L509.70 312.96 L511.70 312.96 L513.70 312.95 L515.70 312.93 L517.70 312.91 L519.70 312.89 L521.70 312.85 L523.70 312.81 L525.70 312.74 L527.70 312.64 L529.70 312.48 L531.70 312.24 L531.95 312.20 L532.20 312.15 L532.45 312.11 L532.70 312.06 L532.95 312.01 L533.20 311.95 L533.45 311.89 L533.70 311.83 L533.95 311.76 L534.20 311.69 L534.45 311.61 L534.70 311.53 L534.95 311.44 L535.20 311.35 L535.45 311.24 L535.70 311.13 L535.95 311.01 L536.20 310.88 L536.45 310.74 L536.70 310.59 L536.95 310.43 L537.20 310.25 L537.45 310.06 L537.70 309.85 L537.95 309.63 L538.20 309.38 L538.45 309.12 L538.70 308.83 L538.95 308.51 L539.20 308.16 L539.45 307.79 L539.70 307.37 L539.95 306.92 L540.20 306.42 L540.45 305.88 L540.70 305.28 L540.95 304.61 L541.20 303.89 L541.45 303.08 L541.70 302.20 L541.95 301.21 L542.20 300.13 L542.45 298.93 L542.70 297.59 L542.95 296.11 L543.20 294.47 L543.45 292.64 L543.70 290.60 L543.95 288.33 L544.20 285.80 L544.45 282.99 L544.70 279.84 L544.95 276.34 L545.20 272.43 L545.45 268.07 L545.70 263.22 L545.95 257.81 L546.20 251.81 L546.45 245.15 L546.70 237.80 L546.95 229.70 L547.20 220.85 L547.45 211.26 L547.70 200.96 L547.95 190.11 L548.20 178.93 L548.45 167.82 L548.70 157.32 L548.95 148.18 L549.20 141.25 L549.45 137.35 L549.70 136.98 L549.95 140.21 L550.20 146.59 L550.45 155.35 L550.70 165.64 L550.95 176.69 L551.20 187.89 L551.45 198.83 L551.70 209.25 L551.95 218.99 L552.20 228.00 L552.45 236.24 L552.70 243.74 L552.95 250.53 L553.20 256.66 L553.45 262.18 L553.70 267.14 L553.95 271.59 L554.20 275.59 L554.45 279.17 L554.70 282.38 L554.95 285.26 L555.20 287.85 L555.45 290.17 L555.70 292.25 L555.95 294.12 L556.20 295.80 L556.45 297.31 L556.70 298.67 L556.95 299.90 L557.20 301.01 L557.45 302.01 L557.70 302.91 L557.95 303.73 L558.20 304.47 L558.45 305.15 L558.70 305.76 L558.95 306.32 L559.20 306.82 L559.45 307.29 L559.70 307.71 L559.95 308.09 L560.20 308.44 L560.45 308.77 L560.70 309.06 L560.95 309.33 L561.20 309.58 L561.45 309.81 L561.70 310.02 L561.95 310.22 L562.20 310.40 L562.45 310.56 L562.70 310.71 L562.95 310.86 L563.20 310.99 L563.45 311.11 L563.70 311.22 L563.95 311.33 L564.20 311.42 L564.45 311.51 L564.70 311.60 L564.95 311.68 L565.20 311.75 L565.45 311.82 L565.70 311.88 L565.95 311.94 L566.20 312.00 L566.45 312.05 L566.70 312.10 L566.95 312.14 L567.20 312.19 L567.45 312.23 L567.70 312.27 L567.95 312.30 L568.20 312.33 L568.45 312.37 L568.70 312.40 L568.95 312.42 L569.20 312.45 L569.45 312.48 L569.70 312.50 L569.95 312.52 L570.20 312.54 L570.45 312.56 L570.70 312.58 L570.95 312.60 L571.20 312.62 L571.45 312.63 L571.70 312.65 L571.95 312.66 L572.20 312.68 L572.45 312.69 L572.70 312.70 L572.95 312.71 L573.20 312.73 L573.45 312.74 L573.70 312.75 L573.95 312.76 L574.20 312.77 L574.45 312.77 L574.70 312.78 L574.95 312.79 L575.20 312.80 L577.20 312.85 L579.20 312.88 L581.20 312.91 L583.20 312.93 L585.20 312.94 L587.20 312.95" fill="none" stroke="#f0f" stroke-width="1.05" stroke-linejoin="round"/>
</g>
<rect x="87.7" y="62.3" width="499.90000000000003" height="375.0" fill="none" stroke="#000" stroke-width="1.3"/>
<path d="M90.8 62.3v9.6M90.8 437.3v-9.6M122.0 62.3v19.2M122.0 437.3v-19.2M153.2 62.3v9.6M153.2 437.3v-9.6M184.4 62.3v9.6M184.4 437.3v-9.6M215.6 62.3v9.6M215.6 437.3v-9.6M246.8 62.3v9.6M246.8 437.3v-9.6M278.0 62.3v19.2M278.0 437.3v-19.2M309.2 62.3v9.6M309.2 437.3v-9.6M340.4 62.3v9.6M340.4 437.3v-9.6M371.6 62.3v9.6M371.6 437.3v-9.6M402.8 62.3v9.6M402.8 437.3v-9.6M434.0 62.3v19.2M434.0 437.3v-19.2M465.2 62.3v9.6M465.2 437.3v-9.6M496.4 62.3v9.6M496.4 437.3v-9.6M527.6 62.3v9.6M527.6 437.3v-9.6M558.8 62.3v9.6M558.8 437.3v-9.6M87.7 75.0h9.6M587.6 75.0h-9.6M87.7 92.6h9.6M587.6 92.6h-9.6M87.7 110.3h9.6M587.6 110.3h-9.6M87.7 127.9h9.6M587.6 127.9h-9.6M87.7 145.6h19.2M587.6 145.6h-19.2M87.7 163.3h9.6M587.6 163.3h-9.6M87.7 180.9h9.6M587.6 180.9h-9.6M87.7 198.6h9.6M587.6 198.6h-9.6M87.7 216.2h9.6M587.6 216.2h-9.6M87.7 233.8h19.2M587.6 233.8h-19.2M87.7 251.5h9.6M587.6 251.5h-9.6M87.7 269.1h9.6M587.6 269.1h-9.6M87.7 286.8h9.6M587.6 286.8h-9.6M87.7 304.4h9.6M587.6 304.4h-9.6M87.7 322.1h19.2M587.6 322.1h-19.2M87.7 339.8h9.6M587.6 339.8h-9.6M87.7 357.4h9.6M587.6 357.4h-9.6M87.7 375.1h9.6M587.6 375.1h-9.6M87.7 392.7h9.6M587.6 392.7h-9.6M87.7 410.4h19.2M587.6 410.4h-19.2M87.7 428.0h9.6M587.6 428.0h-9.6" fill="none" stroke="#000" stroke-width="1.05"/>
<text x="338" y="41" font-size="20" text-anchor="middle" textLength="198" lengthAdjust="spacing">OGLE-2025-BLG-0152</text>
<text x="77.8" y="152.5" font-size="19.3" text-anchor="end" textLength="34.6" lengthAdjust="spacing">18.5</text>
<text x="77.8" y="240.8" font-size="19.3" text-anchor="end" textLength="19.2" lengthAdjust="spacing">19</text>
<text x="77.8" y="329.0" font-size="19.3" text-anchor="end" textLength="34.6" lengthAdjust="spacing">19.5</text>
<text x="77.8" y="417.2" font-size="19.3" text-anchor="end" textLength="19.2" lengthAdjust="spacing">20</text>
<text x="122.0" y="463" font-size="19.3" text-anchor="middle" textLength="40.6" lengthAdjust="spacing">8000</text>
<text x="278.0" y="463" font-size="19.3" text-anchor="middle" textLength="40.6" lengthAdjust="spacing">9000</text>
<text x="434.0" y="463" font-size="19.3" text-anchor="middle" textLength="50.8" lengthAdjust="spacing">10000</text>
<text x="337" y="491.2" font-size="20" text-anchor="middle" textLength="127.5" lengthAdjust="spacing">HJD - 2450000</text>
<text transform="translate(27.3 249) rotate(-90)" font-size="20" text-anchor="middle" textLength="104" lengthAdjust="spacing">I magnitude</text>
</svg></body></html>
